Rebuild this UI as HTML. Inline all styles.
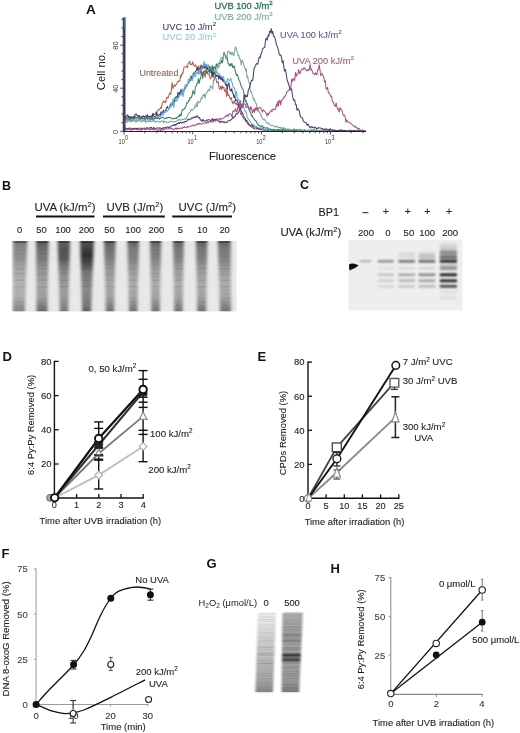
<!DOCTYPE html>
<html><head><meta charset="utf-8"><style>
html,body{margin:0;padding:0;background:#fff;}
svg{display:block;font-family:"Liberation Sans", sans-serif;will-change:transform;}
</style></head><body>
<svg width="520" height="733" viewBox="0 0 520 733">
<defs><linearGradient id="gB0" x1="0" y1="0" x2="0" y2="1"><stop offset="0" stop-color="#000" stop-opacity="0.57"/><stop offset="0.03" stop-color="#000" stop-opacity="0.47"/><stop offset="0.1" stop-color="#000" stop-opacity="0.42"/><stop offset="0.25" stop-color="#000" stop-opacity="0.38"/><stop offset="0.4" stop-color="#000" stop-opacity="0.28"/><stop offset="0.6" stop-color="#000" stop-opacity="0.23"/><stop offset="0.78" stop-color="#000" stop-opacity="0.25"/><stop offset="0.9" stop-color="#000" stop-opacity="0.34"/><stop offset="1.0" stop-color="#000" stop-opacity="0.44"/></linearGradient><linearGradient id="gB1" x1="0" y1="0" x2="0" y2="1"><stop offset="0" stop-color="#000" stop-opacity="0.72"/><stop offset="0.03" stop-color="#000" stop-opacity="0.60"/><stop offset="0.1" stop-color="#000" stop-opacity="0.53"/><stop offset="0.25" stop-color="#000" stop-opacity="0.48"/><stop offset="0.4" stop-color="#000" stop-opacity="0.36"/><stop offset="0.6" stop-color="#000" stop-opacity="0.29"/><stop offset="0.78" stop-color="#000" stop-opacity="0.31"/><stop offset="0.9" stop-color="#000" stop-opacity="0.43"/><stop offset="1.0" stop-color="#000" stop-opacity="0.55"/></linearGradient><linearGradient id="gB2" x1="0" y1="0" x2="0" y2="1"><stop offset="0" stop-color="#000" stop-opacity="0.72"/><stop offset="0.03" stop-color="#000" stop-opacity="0.60"/><stop offset="0.1" stop-color="#000" stop-opacity="0.64"/><stop offset="0.25" stop-color="#000" stop-opacity="0.62"/><stop offset="0.35" stop-color="#000" stop-opacity="0.48"/><stop offset="0.5" stop-color="#000" stop-opacity="0.37"/><stop offset="0.75" stop-color="#000" stop-opacity="0.32"/><stop offset="0.9" stop-color="#000" stop-opacity="0.40"/><stop offset="1.0" stop-color="#000" stop-opacity="0.50"/></linearGradient><linearGradient id="gB3" x1="0" y1="0" x2="0" y2="1"><stop offset="0" stop-color="#000" stop-opacity="0.80"/><stop offset="0.03" stop-color="#000" stop-opacity="0.66"/><stop offset="0.1" stop-color="#000" stop-opacity="0.72"/><stop offset="0.2" stop-color="#000" stop-opacity="0.80"/><stop offset="0.33" stop-color="#000" stop-opacity="0.66"/><stop offset="0.45" stop-color="#000" stop-opacity="0.48"/><stop offset="0.7" stop-color="#000" stop-opacity="0.40"/><stop offset="0.9" stop-color="#000" stop-opacity="0.48"/><stop offset="1.0" stop-color="#000" stop-opacity="0.60"/></linearGradient><linearGradient id="gB4" x1="0" y1="0" x2="0" y2="1"><stop offset="0" stop-color="#000" stop-opacity="0.69"/><stop offset="0.03" stop-color="#000" stop-opacity="0.57"/><stop offset="0.1" stop-color="#000" stop-opacity="0.51"/><stop offset="0.25" stop-color="#000" stop-opacity="0.46"/><stop offset="0.4" stop-color="#000" stop-opacity="0.34"/><stop offset="0.6" stop-color="#000" stop-opacity="0.28"/><stop offset="0.78" stop-color="#000" stop-opacity="0.30"/><stop offset="0.9" stop-color="#000" stop-opacity="0.41"/><stop offset="1.0" stop-color="#000" stop-opacity="0.53"/></linearGradient><linearGradient id="gB5" x1="0" y1="0" x2="0" y2="1"><stop offset="0" stop-color="#000" stop-opacity="0.66"/><stop offset="0.03" stop-color="#000" stop-opacity="0.55"/><stop offset="0.1" stop-color="#000" stop-opacity="0.48"/><stop offset="0.25" stop-color="#000" stop-opacity="0.44"/><stop offset="0.4" stop-color="#000" stop-opacity="0.33"/><stop offset="0.6" stop-color="#000" stop-opacity="0.26"/><stop offset="0.78" stop-color="#000" stop-opacity="0.29"/><stop offset="0.9" stop-color="#000" stop-opacity="0.40"/><stop offset="1.0" stop-color="#000" stop-opacity="0.51"/></linearGradient><linearGradient id="gB6" x1="0" y1="0" x2="0" y2="1"><stop offset="0" stop-color="#000" stop-opacity="0.66"/><stop offset="0.03" stop-color="#000" stop-opacity="0.55"/><stop offset="0.1" stop-color="#000" stop-opacity="0.48"/><stop offset="0.25" stop-color="#000" stop-opacity="0.44"/><stop offset="0.4" stop-color="#000" stop-opacity="0.33"/><stop offset="0.6" stop-color="#000" stop-opacity="0.26"/><stop offset="0.78" stop-color="#000" stop-opacity="0.29"/><stop offset="0.9" stop-color="#000" stop-opacity="0.40"/><stop offset="1.0" stop-color="#000" stop-opacity="0.51"/></linearGradient><linearGradient id="gB7" x1="0" y1="0" x2="0" y2="1"><stop offset="0" stop-color="#000" stop-opacity="0.66"/><stop offset="0.03" stop-color="#000" stop-opacity="0.55"/><stop offset="0.1" stop-color="#000" stop-opacity="0.48"/><stop offset="0.25" stop-color="#000" stop-opacity="0.44"/><stop offset="0.4" stop-color="#000" stop-opacity="0.33"/><stop offset="0.6" stop-color="#000" stop-opacity="0.26"/><stop offset="0.78" stop-color="#000" stop-opacity="0.29"/><stop offset="0.9" stop-color="#000" stop-opacity="0.40"/><stop offset="1.0" stop-color="#000" stop-opacity="0.51"/></linearGradient><linearGradient id="gB8" x1="0" y1="0" x2="0" y2="1"><stop offset="0" stop-color="#000" stop-opacity="0.67"/><stop offset="0.03" stop-color="#000" stop-opacity="0.56"/><stop offset="0.1" stop-color="#000" stop-opacity="0.49"/><stop offset="0.25" stop-color="#000" stop-opacity="0.45"/><stop offset="0.4" stop-color="#000" stop-opacity="0.34"/><stop offset="0.6" stop-color="#000" stop-opacity="0.27"/><stop offset="0.78" stop-color="#000" stop-opacity="0.29"/><stop offset="0.9" stop-color="#000" stop-opacity="0.40"/><stop offset="1.0" stop-color="#000" stop-opacity="0.52"/></linearGradient><linearGradient id="gB9" x1="0" y1="0" x2="0" y2="1"><stop offset="0" stop-color="#000" stop-opacity="0.66"/><stop offset="0.03" stop-color="#000" stop-opacity="0.55"/><stop offset="0.1" stop-color="#000" stop-opacity="0.48"/><stop offset="0.25" stop-color="#000" stop-opacity="0.44"/><stop offset="0.4" stop-color="#000" stop-opacity="0.33"/><stop offset="0.6" stop-color="#000" stop-opacity="0.26"/><stop offset="0.78" stop-color="#000" stop-opacity="0.29"/><stop offset="0.9" stop-color="#000" stop-opacity="0.40"/><stop offset="1.0" stop-color="#000" stop-opacity="0.51"/></linearGradient><filter id="blurB" x="-40%" y="-5%" width="180%" height="110%"><feGaussianBlur stdDeviation="1.8 0.5"/></filter><filter id="blurCC" x="-20%" y="-150%" width="140%" height="400%"><feGaussianBlur stdDeviation="1.3 0.8"/></filter><filter id="blurS" x="-20%" y="-50%" width="140%" height="200%"><feGaussianBlur stdDeviation="0.4"/></filter><linearGradient id="gC5" x1="0" y1="0" x2="0" y2="1"><stop offset="0" stop-color="#000" stop-opacity="0.03"/><stop offset="0.5" stop-color="#000" stop-opacity="0.2"/><stop offset="1" stop-color="#000" stop-opacity="0.38"/></linearGradient><linearGradient id="gC4" x1="0" y1="0" x2="0" y2="1"><stop offset="0" stop-color="#000" stop-opacity="0.0"/><stop offset="1" stop-color="#000" stop-opacity="0.1"/></linearGradient><filter id="blurE" x="-5%" y="-5%" width="110%" height="110%"><feGaussianBlur stdDeviation="0.6"/></filter><filter id="blurC" x="-20%" y="-100%" width="140%" height="300%"><feGaussianBlur stdDeviation="0.9 0.6"/></filter><filter id="blurG" x="-20%" y="-5%" width="140%" height="110%"><feGaussianBlur stdDeviation="1.2 0.5"/></filter><linearGradient id="gG1" x1="0" y1="0" x2="0" y2="1"><stop offset="0" stop-color="#efefef"/><stop offset="0.25" stop-color="#d8d8d8"/><stop offset="0.6" stop-color="#bcbcbc"/><stop offset="0.88" stop-color="#a0a0a0"/><stop offset="1" stop-color="#848484"/></linearGradient><linearGradient id="gG2" x1="0" y1="0" x2="0" y2="1"><stop offset="0" stop-color="#c8c8c8"/><stop offset="0.3" stop-color="#acacac"/><stop offset="0.6" stop-color="#a8a8a8"/><stop offset="0.88" stop-color="#989898"/><stop offset="1" stop-color="#7a7a7a"/></linearGradient></defs>
<rect width="520" height="733" fill="#fff"/>
<text x="86" y="13.7" font-size="13.5" fill="#111" text-anchor="start" font-weight="bold" >A</text>
<polyline points="124.0,117.0 124.7,118.3 125.5,116.9 126.2,117.8 126.9,117.7 127.7,116.8 128.4,118.7 129.1,117.0 129.9,116.5 130.6,118.1 131.3,116.6 132.1,117.4 132.8,117.1 133.5,118.5 134.3,118.6 135.0,117.6 135.8,117.9 136.5,117.4 137.3,117.4 138.1,117.6 138.8,116.7 139.6,116.6 140.4,118.5 141.2,118.1 141.9,117.4 142.7,117.7 143.5,117.9 144.2,118.1 145.0,120.2 145.8,118.7 146.6,116.7 147.3,117.0 148.1,117.9 148.9,117.8 149.7,116.8 150.4,117.1 151.2,115.6 152.0,117.8 152.8,116.2 153.6,113.7 154.4,114.4 155.2,114.4 156.0,112.0 156.8,112.4 157.6,110.5 158.4,109.5 159.2,109.9 160.0,109.0 160.7,107.3 161.4,108.1 162.1,103.6 162.9,102.5 163.6,100.9 164.3,102.1 165.0,101.2 165.7,102.8 166.4,97.8 167.1,97.1 167.9,98.2 168.6,96.5 169.3,93.9 170.0,93.0 170.7,94.3 171.4,89.8 172.1,82.5 172.9,88.5 173.6,86.8 174.3,84.8 175.0,86.3 175.8,84.9 176.6,84.0 177.4,82.3 178.2,81.0 179.0,81.5 179.8,80.9 180.5,75.3 181.2,76.9 182.0,73.1 182.8,73.8 183.5,69.6 184.2,67.2 185.0,66.9 185.8,66.7 186.6,66.1 187.4,68.0 188.2,63.2 189.0,62.8 189.8,61.3 190.5,64.6 191.2,64.3 192.0,64.5 192.8,61.9 193.5,64.3 194.2,66.2 195.0,66.0 195.8,64.9 196.5,67.1 197.2,69.3 198.0,69.0 198.7,65.8 199.5,70.0 200.2,73.9 200.9,64.8 201.6,74.3 202.4,72.8 203.1,74.2 203.8,70.9 204.5,75.0 205.3,77.1 206.0,68.6 206.7,73.0 207.5,73.6 208.2,74.1 209.0,73.7 209.7,76.9 210.5,78.7 211.2,77.5 212.0,71.2 212.7,73.8 213.5,74.7 214.3,79.4 215.1,76.9 215.9,78.0 216.7,82.7 217.5,82.1 218.3,81.8 219.2,88.8 220.0,89.1 220.8,86.1 221.5,89.6 222.3,85.9 223.0,88.0 223.8,87.4 224.5,90.9 225.3,91.7 226.0,88.7 226.7,96.5 227.4,90.8 228.1,95.5 228.8,95.0 229.6,97.2 230.4,99.3 231.3,97.7 232.1,101.8 232.9,103.7 233.7,101.8 234.4,101.0 235.2,104.0 236.0,102.9 236.8,104.7 237.5,103.9 238.3,106.3 239.1,106.0 239.9,110.3 240.7,114.4 241.5,113.2 242.3,116.2 243.0,117.6 243.8,118.4 244.5,119.5 245.3,120.0 246.0,121.9 246.8,122.7 247.6,123.6 248.4,124.7 249.2,125.0 250.0,125.2 250.7,126.7 251.4,126.6 252.1,127.3 252.9,127.5 253.6,128.9 254.3,127.8 255.0,129.0 255.8,129.1 256.6,129.2 257.3,128.5 258.1,129.1 258.9,129.1 259.7,129.5 260.4,129.3 261.2,129.4 262.0,130.2 262.8,129.8 263.5,130.4 264.3,129.9 265.1,130.5 265.8,131.3 266.6,130.3 267.4,131.3 268.1,130.3 268.9,130.1 269.6,131.0 270.4,130.8 271.2,130.1 271.9,131.1 272.7,131.3 273.5,130.7 274.2,131.3 275.0,130.9 275.8,130.5 276.5,130.8 277.3,131.0 278.0,131.1 278.8,130.7 279.5,131.3 280.3,130.4 281.0,130.0 281.8,131.1 282.5,131.3 283.3,131.0 284.0,130.3 284.8,130.6 285.5,130.0 286.3,130.5 287.0,130.6 287.8,130.8 288.5,131.3 289.3,131.1 290.0,130.5 290.8,130.7 291.5,130.2 292.3,130.9 293.0,130.8 293.8,131.3 294.6,131.0 295.3,131.1 296.1,131.3 296.8,130.7 297.6,130.5 298.3,131.3 299.1,131.0 299.8,131.1 300.6,131.0 301.3,130.3 302.1,131.3 302.8,131.3 303.6,130.7 304.3,129.7 305.1,130.4 305.8,131.3 306.6,130.8 307.3,131.3 308.1,130.9 308.8,130.6 309.6,131.3 310.3,130.9 311.1,131.3 311.9,131.3 312.6,130.1 313.4,130.8 314.1,131.3 314.9,131.3 315.6,130.9 316.4,129.9 317.1,131.3 317.9,131.3 318.6,130.9 319.4,131.3 320.1,130.6 320.9,130.4 321.6,131.2 322.4,130.9 323.1,130.7 323.9,130.5 324.6,131.3 325.4,131.3 326.1,131.0 326.9,131.3 327.6,130.7 328.4,131.1 329.1,131.3 329.9,130.7 330.7,130.7 331.4,131.3 332.2,130.7 332.9,130.6 333.7,130.5 334.4,131.3 335.2,131.3 335.9,131.0 336.7,131.3 337.4,131.3 338.2,130.7 338.9,131.3 339.7,130.6 340.4,131.1 341.2,131.3 341.9,131.0 342.7,131.1 343.4,131.3 344.2,131.3 344.9,131.1 345.7,131.3 346.4,131.3 347.2,131.3 348.0,131.3 348.7,131.2 349.5,131.2 350.2,131.0 351.0,131.3 351.7,131.0 352.5,130.5 353.2,131.0 354.0,130.7 354.7,131.3 355.5,130.6 356.2,131.3 357.0,131.2 357.7,131.3 358.5,131.2 359.2,131.3 360.0,130.6 360.7,131.2 361.5,131.3 362.2,129.9 363.0,130.4 363.7,131.0 364.5,131.3 365.2,131.2 366.0,131.3" fill="none" stroke="#b85a4e" stroke-width="1.05" stroke-linejoin="round" opacity="1.0"/>
<polyline points="124.0,114.7 124.8,116.2 125.5,116.9 126.3,116.1 127.0,115.6 127.8,115.0 128.6,116.7 129.3,116.9 130.1,119.2 130.9,116.8 131.6,118.0 132.4,117.3 133.1,116.7 133.9,119.0 134.7,115.1 135.4,114.3 136.2,114.1 137.0,115.5 137.7,116.1 138.5,116.4 139.2,115.3 140.0,116.7 140.8,117.0 141.5,116.7 142.2,118.1 143.0,115.7 143.8,116.3 144.5,117.1 145.2,116.3 146.0,115.7 146.8,116.4 147.5,114.7 148.2,117.1 149.0,116.8 149.8,116.8 150.5,116.2 151.2,117.0 152.0,116.3 152.8,113.5 153.6,115.9 154.3,116.4 155.1,117.0 155.9,116.7 156.7,112.5 157.4,115.2 158.2,115.9 159.0,114.7 159.7,114.2 160.4,115.2 161.1,111.7 161.9,113.8 162.6,113.2 163.3,110.3 164.0,112.5 164.8,111.2 165.6,110.4 166.4,108.5 167.2,106.6 168.0,107.9 168.8,109.2 169.6,107.2 170.4,103.9 171.2,106.1 172.0,102.7 172.8,105.1 173.5,100.8 174.2,103.3 175.0,98.1 175.8,97.0 176.5,96.8 177.2,98.1 178.0,92.3 178.8,97.3 179.5,92.3 180.2,93.7 181.0,89.4 181.7,91.6 182.4,92.4 183.1,92.3 183.9,90.8 184.6,88.2 185.3,88.5 186.0,85.6 186.7,85.1 187.4,85.3 188.1,82.8 188.9,82.1 189.6,80.7 190.3,80.6 191.0,75.8 191.8,79.2 192.6,78.8 193.4,73.0 194.2,74.8 195.0,72.4 195.8,71.1 196.6,70.0 197.3,67.3 198.1,70.5 198.9,69.4 199.7,68.5 200.4,67.5 201.2,66.4 202.0,65.7 202.7,68.0 203.4,68.2 204.1,64.6 204.9,68.2 205.6,67.5 206.3,64.5 207.0,69.6 207.7,68.4 208.4,66.4 209.1,70.8 209.8,66.2 210.6,71.6 211.3,73.1 212.0,69.8 212.7,76.8 213.5,72.1 214.2,73.8 215.0,70.4 215.7,76.7 216.5,74.9 217.2,76.2 218.0,75.2 218.8,79.2 219.6,74.6 220.4,78.8 221.1,79.7 221.9,76.5 222.7,81.3 223.5,79.4 224.3,82.6 225.0,82.0 225.8,85.3 226.5,84.1 227.3,89.6 228.0,84.6 228.8,82.8 229.5,86.1 230.3,90.7 231.0,90.9 231.8,88.8 232.5,93.1 233.3,93.7 234.0,97.6 234.8,95.5 235.6,101.0 236.4,100.1 237.2,100.9 238.0,102.7 238.8,106.9 239.6,104.9 240.4,108.6 241.2,110.8 242.0,112.6 242.8,113.6 243.5,115.9 244.3,117.6 245.0,118.1 245.8,120.6 246.5,120.3 247.2,121.4 247.9,122.1 248.6,124.3 249.3,124.6 250.0,125.2 250.8,125.6 251.5,124.8 252.3,124.8 253.0,126.9 253.8,125.6 254.5,126.3 255.2,126.6 256.0,127.3 256.7,128.2 257.4,127.9 258.2,128.5 258.9,128.0 259.6,128.8 260.3,128.9 261.1,129.1 261.8,129.0 262.6,128.1 263.3,129.0 264.1,129.6 264.8,129.6 265.5,130.2 266.3,129.9 267.0,130.0 267.8,130.1 268.5,130.0 269.3,130.4 270.0,130.0 270.8,130.5 271.5,129.7 272.2,129.9 273.0,130.2 273.8,129.5 274.5,130.5 275.2,130.5 276.0,130.2 276.8,130.1 277.5,129.8 278.2,130.3 279.0,130.5 279.8,130.2 280.5,130.4 281.2,130.8 282.0,129.6 282.8,130.4 283.5,131.1 284.2,129.7 285.0,130.3 285.8,130.7 286.5,129.8 287.2,130.3 288.0,130.7 288.8,130.4 289.5,131.0 290.2,129.8 291.0,131.1 291.8,130.6 292.5,131.3 293.2,131.1 294.0,131.1 294.8,129.8 295.5,130.9 296.2,129.6 297.0,129.7 297.8,129.7 298.5,130.9 299.2,130.0 300.0,130.3 300.8,129.9 301.5,130.7 302.2,130.5 303.0,131.2 303.8,131.3 304.5,129.8 305.2,130.5 306.0,130.8 306.8,130.7 307.5,130.4 308.2,130.9 309.0,131.3 309.8,130.8 310.5,131.3 311.2,130.5 312.0,130.5 312.8,131.2 313.5,129.5 314.2,130.6 315.0,131.1 315.8,131.1 316.5,130.1 317.2,130.7 318.0,131.3 318.8,131.3 319.5,131.3 320.2,130.9 321.0,131.2 321.8,131.0 322.5,130.1 323.2,130.0 324.0,131.3 324.8,130.5 325.5,130.7 326.2,130.5 327.0,131.3 327.8,131.3 328.5,130.9 329.2,131.3 330.0,130.8 330.8,130.6 331.5,131.3 332.2,131.3 333.0,131.3 333.8,131.3 334.5,131.3 335.2,131.3 336.0,131.3 336.8,130.7 337.5,131.3 338.2,131.3 339.0,131.1 339.8,131.1 340.5,131.2 341.2,130.9 342.0,129.8 342.8,131.3 343.5,131.3 344.2,130.7 345.0,131.3 345.8,130.9 346.5,131.0 347.2,131.0 348.0,131.3 348.8,130.4 349.5,130.1 350.2,131.2 351.0,130.7 351.8,130.3 352.5,131.3 353.2,131.3 354.0,131.3 354.8,130.2 355.5,131.3 356.2,131.3 357.0,131.3 357.8,131.3 358.5,131.3 359.2,131.2 360.0,130.8 360.8,131.0 361.5,131.3 362.2,131.3 363.0,131.3 363.8,131.3 364.5,131.3 365.2,131.3 366.0,131.1" fill="none" stroke="#34387a" stroke-width="1.05" stroke-linejoin="round" opacity="1.0"/>
<polyline points="124.0,120.9 124.8,121.9 125.5,121.1 126.3,121.3 127.0,120.8 127.8,120.4 128.6,120.5 129.3,121.3 130.1,121.1 130.9,120.6 131.6,121.0 132.4,119.4 133.1,121.5 133.9,120.0 134.7,119.2 135.4,120.4 136.2,119.8 137.0,120.7 137.7,120.7 138.5,119.0 139.2,119.0 140.0,119.6 140.8,119.6 141.5,120.1 142.2,119.9 143.0,120.6 143.8,120.4 144.5,120.4 145.2,120.9 146.0,120.4 146.8,119.9 147.5,119.6 148.2,120.2 149.0,118.8 149.8,120.6 150.5,118.5 151.2,119.9 152.0,119.0 152.7,120.2 153.5,118.9 154.2,118.1 154.9,117.9 155.6,118.3 156.4,117.4 157.1,117.8 157.8,115.7 158.5,118.0 159.3,116.1 160.0,116.7 160.8,117.2 161.5,115.1 162.2,113.0 163.0,115.4 163.8,114.1 164.5,111.3 165.2,112.2 166.0,112.3 166.7,110.0 167.4,111.1 168.1,110.5 168.9,107.7 169.6,108.2 170.3,105.0 171.0,107.0 171.7,102.1 172.4,104.4 173.1,98.5 173.9,107.6 174.6,102.1 175.3,101.3 176.0,99.1 176.7,101.3 177.4,99.7 178.1,98.2 178.9,94.5 179.6,95.7 180.3,95.0 181.0,93.3 181.7,95.1 182.4,88.8 183.1,96.7 183.9,91.2 184.6,87.5 185.3,84.4 186.0,87.7 186.7,84.1 187.4,86.1 188.1,79.8 188.9,78.8 189.6,80.3 190.3,78.0 191.0,78.6 191.7,80.3 192.4,80.7 193.1,74.2 193.9,76.7 194.6,73.9 195.3,76.8 196.0,75.0 196.7,72.2 197.4,73.5 198.1,70.9 198.9,74.6 199.6,69.2 200.3,70.6 201.0,70.8 201.7,69.0 202.4,69.4 203.1,67.4 203.9,61.5 204.6,63.5 205.3,66.3 206.0,63.8 206.7,66.3 207.4,66.5 208.1,64.3 208.9,70.7 209.6,67.9 210.3,68.1 211.0,68.5 211.7,68.3 212.4,70.9 213.1,69.0 213.9,69.7 214.6,71.4 215.3,71.6 216.0,72.7 216.7,71.9 217.4,71.9 218.1,73.9 218.9,73.7 219.6,75.3 220.3,75.7 221.0,76.8 221.7,76.8 222.4,77.3 223.1,76.5 223.9,78.3 224.6,83.5 225.3,82.6 226.0,81.3 226.8,82.3 227.6,78.6 228.4,79.5 229.2,81.0 230.0,80.2 230.8,78.1 231.5,82.1 232.2,82.6 232.9,86.4 233.6,88.0 234.3,87.7 235.0,90.7 235.8,95.1 236.6,91.4 237.4,100.5 238.2,99.0 239.0,99.7 239.8,104.1 240.7,100.4 241.5,106.0 242.3,106.1 243.0,107.2 243.7,107.7 244.4,109.3 245.2,112.1 245.9,111.1 246.6,114.1 247.3,117.5 248.0,118.7 248.8,119.7 249.6,120.3 250.4,121.5 251.2,123.0 252.0,123.8 252.8,123.9 253.5,125.0 254.3,126.2 255.0,126.5 255.8,126.8 256.5,126.1 257.3,127.4 258.0,127.6 258.8,127.7 259.5,128.0 260.2,128.0 260.9,127.7 261.6,127.9 262.4,128.9 263.1,128.6 263.8,129.5 264.6,129.3 265.3,129.6 266.0,130.6 266.8,129.5 267.5,129.7 268.2,129.3 269.0,129.9 269.8,130.6 270.5,129.8 271.2,130.2 272.0,130.7 272.8,130.6 273.5,130.4 274.2,130.4 275.0,130.1 275.8,130.2 276.5,130.3 277.2,130.3 278.0,129.2 278.8,130.3 279.5,129.8 280.2,131.3 281.0,131.3 281.8,131.0 282.5,131.0 283.2,130.6 284.0,130.8 284.8,130.5 285.5,130.3 286.2,129.5 287.0,130.7 287.8,130.7 288.5,130.7 289.2,130.4 290.0,129.7 290.8,130.5 291.5,130.6 292.3,130.8 293.0,130.7 293.8,129.9 294.5,130.8 295.3,130.2 296.0,129.5 296.8,130.7 297.5,130.7 298.3,130.1 299.0,130.8 299.8,131.3 300.5,131.2 301.3,130.7 302.0,130.7 302.8,130.9 303.5,130.7 304.3,130.5 305.0,130.2 305.8,130.6 306.6,131.0 307.3,130.6 308.1,130.4 308.8,130.3 309.6,131.2 310.3,130.9 311.1,130.7 311.8,130.5 312.6,130.6 313.3,130.2 314.1,130.6 314.8,130.3 315.6,131.2 316.3,131.0 317.1,130.6 317.8,131.3 318.6,130.3 319.3,131.3 320.1,131.3 320.9,131.3 321.6,130.7 322.4,131.3 323.1,130.9 323.9,131.3 324.6,131.1 325.4,130.9 326.1,131.3 326.9,131.0 327.6,131.3 328.4,131.0 329.1,131.1 329.9,131.2 330.6,131.2 331.4,130.8 332.1,131.3 332.9,131.3 333.6,130.9 334.4,131.1 335.1,131.2 335.9,131.2 336.7,131.3 337.4,130.8 338.2,130.8 338.9,131.2 339.7,131.3 340.4,131.3 341.2,131.3 341.9,131.1 342.7,131.3 343.4,131.3 344.2,131.3 344.9,131.3 345.7,131.3 346.4,131.3 347.2,131.2 347.9,131.3 348.7,131.3 349.4,131.3 350.2,130.9 351.0,131.3 351.7,130.9 352.5,131.3 353.2,131.3 354.0,131.3 354.7,131.3 355.5,131.3 356.2,131.0 357.0,131.3 357.7,131.2 358.5,130.8 359.2,131.3 360.0,131.1 360.7,131.1 361.5,131.3 362.2,131.3 363.0,131.3 363.7,131.3 364.5,131.3 365.2,131.3 366.0,131.3" fill="none" stroke="#62b0d2" stroke-width="1.05" stroke-linejoin="round" opacity="1.0"/>
<polyline points="124.0,119.9 124.8,119.7 125.5,118.9 126.3,119.5 127.0,118.5 127.8,120.0 128.6,119.2 129.3,119.2 130.1,118.7 130.9,120.1 131.6,117.7 132.4,118.4 133.1,117.8 133.9,119.2 134.7,117.1 135.4,116.6 136.2,118.1 137.0,118.0 137.7,117.4 138.5,118.6 139.2,117.9 140.0,118.6 140.7,119.1 141.5,118.5 142.2,117.4 143.0,119.0 143.7,118.9 144.4,118.3 145.2,117.6 145.9,118.6 146.7,117.7 147.4,118.8 148.1,117.5 148.9,117.9 149.6,118.6 150.4,119.0 151.1,118.2 151.9,118.9 152.6,117.6 153.3,118.9 154.1,119.1 154.8,118.1 155.6,118.5 156.3,118.1 157.0,118.7 157.8,118.1 158.5,118.4 159.3,119.2 160.0,118.2 160.8,117.9 161.5,118.1 162.2,117.5 163.0,117.4 163.8,118.0 164.5,118.8 165.2,118.6 166.0,117.7 166.8,118.5 167.5,117.8 168.2,117.6 169.0,117.2 169.8,117.8 170.5,117.4 171.2,118.6 172.0,118.8 172.8,118.9 173.5,118.0 174.2,118.8 175.0,118.6 175.8,118.0 176.5,118.7 177.2,116.9 178.0,116.9 178.7,115.7 179.4,116.6 180.1,114.1 180.9,115.9 181.6,112.7 182.3,109.9 183.0,109.4 183.8,109.8 184.6,108.0 185.4,108.1 186.1,105.3 186.9,102.6 187.7,103.1 188.5,100.6 189.3,100.7 190.0,97.4 190.8,97.7 191.5,97.7 192.3,94.2 193.0,90.6 193.8,92.7 194.6,94.3 195.3,87.3 196.1,86.2 196.9,83.7 197.7,83.7 198.4,78.6 199.2,83.2 199.9,80.0 200.6,77.8 201.3,75.2 202.0,71.8 202.7,78.4 203.5,73.0 204.2,72.4 204.9,70.6 205.6,71.7 206.4,71.7 207.1,73.5 207.8,71.1 208.5,70.1 209.3,72.6 210.0,67.7 210.8,72.3 211.5,69.0 212.3,65.4 213.1,71.5 213.9,66.5 214.6,67.7 215.4,69.3 216.2,63.8 216.9,66.3 217.7,64.2 218.5,63.6 219.3,62.9 220.0,63.9 220.8,63.2 221.6,60.3 222.4,62.8 223.2,57.7 224.0,52.3 224.8,54.1 225.6,57.0 226.4,59.1 227.2,57.0 228.0,63.4 228.8,63.7 229.6,66.0 230.3,63.8 231.1,65.6 231.9,63.4 232.7,67.7 233.4,67.2 234.2,65.7 235.0,70.0 235.8,73.6 236.7,75.4 237.5,74.5 238.3,78.0 239.1,80.2 239.9,81.5 240.7,85.0 241.5,86.5 242.3,88.6 243.1,89.5 243.8,92.4 244.6,98.1 245.3,101.7 246.0,100.0 246.6,104.5 247.3,103.6 248.0,106.0 248.7,108.9 249.4,110.2 250.1,111.8 250.8,113.1 251.5,116.2 252.2,115.6 252.9,117.5 253.7,118.7 254.4,119.4 255.1,120.7 255.9,120.7 256.6,122.7 257.3,123.1 258.0,124.4 258.7,125.4 259.4,125.4 260.1,125.5 260.9,126.5 261.6,126.2 262.3,125.6 263.0,127.0 263.8,127.6 264.5,127.6 265.2,128.2 266.0,128.2 266.8,127.6 267.5,127.8 268.2,128.9 269.0,129.1 269.8,128.9 270.5,128.9 271.2,130.0 272.0,129.5 272.8,129.4 273.5,130.2 274.3,129.8 275.0,130.2 275.8,130.5 276.5,130.5 277.3,129.8 278.1,129.4 278.8,130.8 279.6,129.7 280.3,130.2 281.1,130.2 281.8,130.5 282.6,130.3 283.4,129.6 284.1,130.1 284.9,130.3 285.6,130.4 286.4,129.9 287.1,130.6 287.9,128.7 288.6,130.5 289.4,129.8 290.2,130.0 290.9,131.0 291.7,130.6 292.4,130.4 293.2,130.3 293.9,131.1 294.7,130.4 295.5,130.6 296.2,130.4 297.0,130.8 297.7,131.3 298.5,131.1 299.2,131.3 300.0,131.3 300.8,130.3 301.5,131.2 302.2,130.8 303.0,130.4 303.8,130.8 304.5,130.9 305.2,130.6 306.0,130.8 306.8,130.3 307.5,131.3 308.2,131.3 309.0,131.0 309.8,131.1 310.5,131.3 311.2,131.1 312.0,130.7 312.8,131.0 313.5,131.3 314.2,130.7 315.0,131.3 315.8,131.3 316.5,131.0 317.2,131.2 318.0,131.0 318.8,130.6 319.5,130.8 320.2,130.9 321.0,130.9 321.8,131.3 322.5,131.0 323.2,131.3 324.0,131.3 324.8,129.7 325.5,131.1 326.2,130.5 327.0,131.3 327.8,130.7 328.5,131.3 329.2,131.3 330.0,131.2 330.8,131.3 331.5,131.3 332.2,130.8 333.0,131.2 333.8,130.3 334.5,131.0 335.2,131.3 336.0,131.1 336.8,131.3 337.5,131.3 338.2,130.7 339.0,130.8 339.8,131.1 340.5,131.3 341.2,131.0 342.0,131.3 342.8,131.3 343.5,131.3 344.2,130.9 345.0,131.3 345.8,131.2 346.5,131.3 347.2,131.3 348.0,131.3 348.8,131.3 349.5,131.3 350.2,131.3 351.0,131.0 351.8,131.3 352.5,131.3 353.2,131.3 354.0,131.3 354.8,130.7 355.5,131.3 356.2,130.9 357.0,131.3 357.8,131.3 358.5,130.9 359.2,130.7 360.0,130.8 360.8,131.3 361.5,131.2 362.2,131.3 363.0,131.3 363.8,131.3 364.5,131.3 365.2,131.3 366.0,131.3" fill="none" stroke="#3b7d5e" stroke-width="1.05" stroke-linejoin="round" opacity="1.0"/>
<polyline points="124.0,121.1 124.7,121.0 125.5,121.1 126.2,121.0 127.0,122.6 127.7,119.0 128.5,120.9 129.2,120.5 129.9,121.8 130.7,120.0 131.4,121.7 132.2,120.7 132.9,120.8 133.7,121.1 134.4,119.7 135.1,120.4 135.9,122.3 136.6,119.5 137.4,121.3 138.1,121.0 138.9,120.6 139.6,120.1 140.3,121.2 141.1,121.8 141.8,121.5 142.6,120.8 143.3,121.0 144.1,120.8 144.8,120.4 145.5,122.2 146.3,122.2 147.0,121.6 147.8,121.5 148.5,121.5 149.3,121.9 150.0,119.4 150.8,121.4 151.5,121.7 152.3,121.3 153.0,121.2 153.8,120.1 154.5,121.4 155.3,122.2 156.1,121.5 156.8,121.1 157.6,121.4 158.3,121.7 159.1,121.6 159.8,122.3 160.6,121.5 161.4,121.1 162.1,121.4 162.9,120.9 163.6,122.7 164.4,121.2 165.2,122.3 165.9,122.0 166.7,121.8 167.4,122.5 168.2,122.4 168.9,122.8 169.7,121.6 170.5,121.3 171.2,121.4 172.0,121.7 172.7,121.8 173.5,121.6 174.2,122.0 175.0,121.6 175.8,121.4 176.5,120.9 177.3,120.5 178.1,119.8 178.9,119.9 179.6,119.4 180.4,120.2 181.2,120.3 181.9,119.5 182.7,119.5 183.5,119.6 184.3,118.6 185.0,118.6 185.8,119.5 186.6,117.6 187.3,116.3 188.1,114.0 188.9,112.9 189.7,112.9 190.4,111.1 191.2,109.3 192.0,110.5 192.7,110.3 193.5,108.7 194.2,108.6 195.0,105.9 195.7,107.1 196.5,102.9 197.3,106.6 198.1,100.9 198.9,102.3 199.6,102.7 200.4,101.7 201.2,97.5 202.0,98.6 202.8,95.4 203.5,95.8 204.3,93.7 205.0,98.2 205.8,95.4 206.5,92.7 207.3,92.0 208.1,90.2 208.8,89.7 209.6,90.9 210.4,85.7 211.2,87.0 211.9,86.6 212.7,89.3 213.4,79.9 214.1,81.1 214.7,77.1 215.4,70.6 216.3,72.9 217.1,68.1 218.0,65.4 218.8,67.8 219.6,63.0 220.4,59.0 221.2,57.9 222.0,57.2 222.8,60.5 223.6,56.0 224.5,54.2 225.3,55.5 226.1,55.7 226.9,58.9 227.6,51.6 228.4,51.2 229.2,51.5 230.0,54.0 230.7,52.4 231.5,54.5 232.3,52.2 233.1,55.0 233.8,55.6 234.6,51.4 235.4,46.7 236.2,48.0 236.9,50.9 237.6,52.8 238.2,55.6 238.9,55.3 239.6,59.1 240.4,59.4 241.2,65.1 242.0,60.0 242.8,61.5 243.6,64.0 244.3,66.8 245.0,67.8 245.6,70.9 246.3,68.9 247.0,77.5 247.7,76.3 248.4,81.1 249.0,82.1 249.7,84.8 250.4,91.8 251.2,91.6 251.9,93.9 252.7,95.6 253.5,99.9 254.2,98.8 255.0,101.2 255.7,103.2 256.4,103.7 257.2,108.9 257.9,111.4 258.6,109.7 259.4,112.3 260.1,112.6 260.8,114.8 261.5,116.5 262.2,117.6 262.9,119.3 263.6,119.8 264.4,119.0 265.1,120.4 265.8,121.2 266.5,122.7 267.3,122.7 268.1,123.7 268.8,123.2 269.6,124.6 270.4,125.0 271.2,125.4 271.9,125.5 272.7,125.8 273.5,125.7 274.3,126.4 275.0,126.6 275.8,127.2 276.6,126.1 277.3,127.0 278.1,126.9 278.9,127.6 279.6,127.2 280.4,128.1 281.1,127.4 281.9,129.4 282.6,128.0 283.4,128.4 284.1,127.6 284.8,128.8 285.6,128.5 286.3,129.9 287.0,129.5 287.8,130.5 288.5,129.8 289.3,129.3 290.0,130.3 290.8,129.9 291.5,129.9 292.3,129.8 293.0,129.8 293.8,128.8 294.5,129.2 295.3,129.3 296.0,130.0 296.8,129.8 297.5,130.2 298.3,129.8 299.0,130.6 299.8,129.2 300.5,130.3 301.3,129.9 302.0,130.3 302.8,131.2 303.5,130.2 304.3,129.6 305.0,130.5 305.8,130.8 306.6,130.4 307.3,130.4 308.1,130.3 308.8,130.1 309.6,130.3 310.3,130.6 311.1,129.7 311.8,129.5 312.6,130.4 313.3,130.2 314.1,130.5 314.8,129.9 315.6,130.2 316.3,130.3 317.1,130.3 317.8,130.0 318.6,130.4 319.3,130.7 320.1,131.0 320.9,129.9 321.6,130.2 322.4,130.9 323.1,129.9 323.9,130.6 324.6,130.3 325.4,131.0 326.1,131.0 326.9,130.8 327.6,131.1 328.4,131.2 329.1,131.0 329.9,131.0 330.6,131.1 331.4,129.8 332.1,130.7 332.9,131.3 333.6,131.1 334.4,131.3 335.1,131.2 335.9,130.2 336.7,130.4 337.4,130.4 338.2,131.1 338.9,130.8 339.7,130.9 340.4,129.5 341.2,130.8 341.9,131.3 342.7,131.2 343.4,130.7 344.2,131.3 344.9,131.2 345.7,131.1 346.4,131.0 347.2,131.3 347.9,131.2 348.7,131.3 349.4,131.0 350.2,130.1 351.0,130.7 351.7,131.3 352.5,131.2 353.2,131.1 354.0,131.1 354.7,131.3 355.5,130.9 356.2,131.3 357.0,130.8 357.7,131.3 358.5,131.3 359.2,131.2 360.0,131.3 360.7,131.2 361.5,131.3 362.2,130.6 363.0,131.3 363.7,131.3 364.5,131.3 365.2,131.2 366.0,131.3" fill="none" stroke="#74a898" stroke-width="1.05" stroke-linejoin="round" opacity="1.0"/>
<polyline points="124.0,128.2 124.7,128.9 125.5,127.9 126.2,128.9 127.0,128.9 127.7,128.5 128.5,128.5 129.2,128.1 129.9,128.5 130.7,129.5 131.4,129.0 132.2,128.6 132.9,128.6 133.7,128.9 134.4,128.2 135.1,128.9 135.9,128.5 136.6,128.6 137.4,128.6 138.1,128.0 138.9,129.1 139.6,129.3 140.3,128.9 141.1,127.9 141.8,129.1 142.6,128.8 143.3,128.6 144.1,128.0 144.8,128.3 145.5,129.0 146.3,128.0 147.0,127.8 147.8,127.8 148.5,128.6 149.3,128.1 150.0,127.5 150.8,128.3 151.5,127.3 152.3,128.6 153.0,129.4 153.8,127.4 154.6,128.4 155.3,128.8 156.1,128.2 156.9,128.0 157.6,128.0 158.4,128.0 159.1,128.4 159.9,127.7 160.7,128.2 161.4,128.4 162.2,128.5 163.0,127.5 163.7,128.1 164.5,128.1 165.2,127.2 166.0,127.8 166.8,127.5 167.5,126.8 168.2,127.0 169.0,127.7 169.8,127.3 170.5,126.8 171.2,125.9 172.0,125.9 172.8,125.1 173.5,125.3 174.2,124.6 175.0,125.6 175.8,124.4 176.5,124.8 177.2,123.3 178.0,123.8 178.7,122.5 179.5,123.5 180.2,122.5 180.9,122.3 181.6,123.2 182.4,122.4 183.1,122.1 183.8,122.8 184.5,121.5 185.3,121.6 186.0,121.8 186.7,121.1 187.5,120.2 188.2,119.1 189.0,119.9 189.7,119.2 190.5,119.2 191.2,119.1 192.0,117.6 192.7,118.3 193.5,117.3 194.2,117.4 195.0,116.6 195.7,117.5 196.5,116.0 197.3,115.7 198.1,117.7 198.8,117.8 199.6,117.5 200.4,120.1 201.2,120.0 202.0,121.4 202.7,119.4 203.5,120.3 204.2,121.4 205.0,120.9 205.7,121.0 206.5,120.1 207.2,120.4 208.0,119.8 208.7,119.7 209.4,119.8 210.2,120.3 210.9,120.8 211.7,119.7 212.4,118.5 213.2,121.8 213.9,119.3 214.7,119.5 215.4,120.3 216.1,118.8 216.9,120.1 217.6,120.8 218.4,121.0 219.1,120.7 219.8,122.7 220.6,121.4 221.3,121.3 222.0,122.2 222.8,121.5 223.5,122.3 224.3,121.8 225.0,122.7 225.8,122.1 226.6,122.5 227.3,122.0 228.1,120.8 228.9,120.8 229.7,120.8 230.4,120.4 231.2,119.4 232.0,119.1 232.8,116.4 233.5,118.0 234.3,117.0 235.0,116.5 235.8,114.5 236.5,113.6 237.3,114.1 238.0,113.0 238.8,112.0 239.6,108.7 240.4,109.3 241.1,107.8 241.9,104.6 242.7,107.5 243.4,102.1 244.2,94.9 245.0,98.1 245.8,94.9 246.6,96.4 247.4,96.6 248.2,90.5 249.0,88.6 249.8,86.8 250.5,83.4 251.3,80.7 252.0,80.0 252.7,80.6 253.3,75.9 254.0,68.7 254.7,67.0 255.5,66.0 256.3,63.7 257.0,63.6 257.8,64.3 258.6,59.1 259.4,57.1 260.2,57.9 260.9,54.1 261.7,52.9 262.5,49.0 263.2,48.4 264.0,47.7 264.8,47.2 265.6,39.3 266.5,38.2 267.3,40.1 268.1,35.1 268.9,36.1 269.6,31.2 270.4,32.4 271.2,28.5 272.0,33.6 272.7,31.2 273.5,36.3 274.2,36.2 275.0,38.0 275.8,41.6 276.6,45.5 277.4,46.3 278.2,49.4 279.0,53.1 279.8,55.3 280.6,54.8 281.4,56.8 282.2,62.7 283.0,60.6 283.8,66.3 284.5,71.1 285.3,69.5 286.1,73.1 286.8,78.4 287.6,81.3 288.4,83.5 289.2,86.0 290.0,90.3 290.8,88.4 291.6,88.9 292.4,95.0 293.2,99.3 293.9,100.4 294.7,99.8 295.5,104.7 296.2,104.6 297.0,110.2 297.8,108.7 298.6,109.6 299.4,111.4 300.1,115.3 300.9,117.4 301.7,117.8 302.5,117.7 303.3,121.1 304.1,121.8 304.9,122.2 305.7,122.4 306.5,123.3 307.2,125.3 308.0,124.1 308.8,125.5 309.6,127.0 310.3,128.0 311.0,126.9 311.8,126.6 312.5,127.7 313.2,127.0 313.9,127.2 314.7,128.2 315.4,127.2 316.1,128.0 316.8,128.7 317.6,128.2 318.3,127.8 319.0,127.9 319.7,127.8 320.5,127.9 321.2,128.4 321.9,129.0 322.7,128.7 323.4,129.1 324.1,128.9 324.9,129.9 325.6,129.5 326.3,128.7 327.1,129.2 327.8,130.3 328.5,129.5 329.3,130.5 330.0,128.7 330.8,129.2 331.5,129.5 332.2,129.6 333.0,130.7 333.8,130.7 334.5,129.9 335.2,130.6 336.0,130.5 336.8,130.5 337.5,131.1 338.2,130.6 339.0,130.4 339.8,130.4 340.5,130.1 341.2,130.7 342.0,130.7 342.8,130.6 343.5,131.0 344.2,130.8 345.0,130.2 345.8,130.8 346.5,131.3 347.2,131.3 348.0,131.0 348.8,131.3 349.5,131.2 350.2,131.0 351.0,131.3 351.8,130.6 352.5,131.0 353.2,130.7 354.0,130.7 354.8,131.2 355.5,130.7 356.2,131.3 357.0,131.2 357.8,131.1 358.5,130.9 359.2,131.3 360.0,131.0 360.8,130.9 361.5,131.2 362.2,131.1 363.0,131.3 363.8,131.3 364.5,131.3 365.2,131.3 366.0,131.3" fill="none" stroke="#463e78" stroke-width="1.05" stroke-linejoin="round" opacity="1.0"/>
<polyline points="124.0,128.8 124.8,129.5 125.5,129.7 126.2,128.9 127.0,130.0 127.8,129.7 128.5,129.2 129.2,129.6 130.0,127.8 130.8,130.5 131.5,128.5 132.2,129.1 133.0,130.0 133.8,129.8 134.5,129.0 135.2,129.1 136.0,129.3 136.8,129.9 137.5,129.5 138.2,129.4 139.0,130.0 139.8,129.5 140.5,128.7 141.2,130.6 142.0,129.0 142.8,129.1 143.5,128.9 144.2,128.6 145.0,130.0 145.8,129.5 146.5,128.9 147.2,129.3 148.0,128.8 148.8,129.2 149.5,130.0 150.2,129.3 151.0,129.4 151.8,129.7 152.5,129.7 153.2,129.0 154.0,129.5 154.8,130.1 155.5,128.5 156.2,129.0 157.0,129.6 157.8,130.5 158.5,130.3 159.2,129.7 160.0,129.5 160.7,130.6 161.5,129.4 162.2,129.7 163.0,130.0 163.7,129.4 164.4,129.5 165.2,128.9 165.9,128.6 166.7,128.9 167.4,129.1 168.1,128.7 168.9,128.5 169.6,128.9 170.4,128.7 171.1,128.2 171.9,128.3 172.6,129.3 173.3,129.8 174.1,128.8 174.8,128.9 175.6,128.2 176.3,129.2 177.0,127.7 177.8,129.0 178.5,128.4 179.3,128.4 180.0,128.6 180.7,128.0 181.5,128.1 182.2,128.5 183.0,127.1 183.7,127.7 184.4,126.7 185.2,127.2 185.9,127.4 186.7,127.7 187.4,126.4 188.1,127.1 188.9,126.7 189.6,126.7 190.4,126.6 191.1,126.0 191.9,125.7 192.6,125.8 193.3,124.9 194.1,125.7 194.8,125.6 195.6,125.3 196.3,124.1 197.0,124.5 197.8,123.7 198.5,124.4 199.3,123.4 200.0,124.0 200.7,123.7 201.5,123.9 202.2,123.7 202.9,123.8 203.7,123.5 204.4,122.9 205.1,123.1 205.9,122.6 206.6,123.1 207.3,121.5 208.1,123.0 208.8,121.6 209.5,121.4 210.3,121.6 211.0,121.9 211.7,122.2 212.5,121.3 213.2,121.3 213.9,120.9 214.7,120.1 215.4,121.2 216.2,119.9 216.9,119.2 217.6,119.2 218.4,119.6 219.1,119.0 219.8,118.4 220.6,119.6 221.3,118.8 222.1,118.8 222.8,118.5 223.5,118.0 224.3,117.6 225.0,116.7 225.8,115.8 226.6,116.3 227.3,114.9 228.1,116.2 228.9,114.9 229.7,113.5 230.4,113.9 231.2,114.7 232.0,116.7 232.7,111.7 233.4,110.9 234.1,111.6 234.8,110.7 235.6,108.7 236.3,111.7 237.0,112.1 237.7,107.1 238.5,107.2 239.2,108.8 240.0,101.1 240.8,106.4 241.5,106.0 242.3,107.2 243.0,104.4 243.7,104.0 244.4,103.7 245.2,104.5 245.9,107.3 246.6,107.8 247.3,105.9 248.0,106.6 248.7,107.7 249.4,108.0 250.2,109.9 250.9,106.4 251.6,108.9 252.4,113.0 253.1,111.5 253.8,109.2 254.5,112.4 255.2,107.9 256.0,110.2 256.7,107.6 257.4,110.1 258.2,107.9 258.9,108.3 259.6,107.2 260.3,107.5 261.1,108.5 261.8,110.5 262.5,112.0 263.3,109.8 264.0,110.5 264.8,111.5 265.5,112.2 266.2,113.4 267.0,116.2 267.7,113.2 268.4,114.6 269.1,113.2 269.9,112.2 270.6,111.4 271.3,110.0 272.1,111.4 272.8,109.4 273.5,108.9 274.2,109.2 274.9,109.6 275.7,109.1 276.4,104.3 277.1,106.2 277.8,101.5 278.5,106.0 279.2,100.3 280.0,100.3 280.7,104.9 281.4,100.9 282.2,99.5 282.9,99.1 283.7,97.0 284.5,97.4 285.3,95.7 286.1,94.0 286.8,92.2 287.6,91.4 288.4,90.2 289.2,90.3 290.0,88.1 290.8,87.9 291.6,79.3 292.4,81.5 293.2,78.3 293.9,79.6 294.7,80.5 295.5,72.4 296.2,76.2 297.0,74.0 297.8,74.1 298.6,69.7 299.4,72.6 300.1,73.7 300.9,70.5 301.7,69.3 302.5,69.1 303.3,69.4 304.1,67.4 304.8,68.8 305.6,69.2 306.4,71.0 307.1,70.6 307.9,69.4 308.6,70.4 309.4,69.1 310.1,64.4 310.9,70.1 311.6,69.2 312.4,71.6 313.1,73.7 313.9,73.7 314.6,74.7 315.4,72.8 316.2,74.1 316.9,74.8 317.7,69.7 318.5,69.4 319.2,64.8 320.0,70.1 320.8,75.8 321.5,74.0 322.2,73.6 323.0,75.5 323.8,77.2 324.6,81.9 325.3,80.8 326.1,88.8 326.9,89.2 327.6,87.2 328.4,92.9 329.2,92.8 330.0,94.6 330.8,96.4 331.5,96.1 332.3,101.4 333.1,102.1 333.9,103.5 334.7,105.9 335.4,106.4 336.2,103.0 337.0,107.4 337.8,109.7 338.5,108.8 339.2,112.0 340.0,107.4 340.8,109.2 341.5,109.6 342.2,110.9 343.0,114.5 343.8,115.7 344.5,115.1 345.2,117.3 346.0,122.4 346.8,119.7 347.6,121.6 348.4,122.0 349.1,122.8 349.9,122.7 350.7,123.5 351.5,124.1 352.3,124.9 353.1,125.5 353.9,126.0 354.6,127.0 355.4,126.2 356.2,127.7 356.9,127.6 357.7,129.3 358.5,128.3 359.2,128.6 360.0,129.8 360.8,130.6 361.5,130.1 362.2,131.3 363.0,131.1" fill="none" stroke="#b24e86" stroke-width="1.05" stroke-linejoin="round" opacity="1.0"/>
<line x1="124.4" y1="17.5" x2="124.4" y2="131.5" stroke="#3a2e84" stroke-width="2.2"/>
<line x1="124.6" y1="17.5" x2="124.6" y2="28" stroke="#3b7a66" stroke-width="1.4"/>
<line x1="124.6" y1="110" x2="124.6" y2="131" stroke="#8a3a70" stroke-width="1.4" opacity="0.45"/>
<line x1="123.2" y1="17.5" x2="123.2" y2="131.5" stroke="#222" stroke-width="0.8"/>
<line x1="123" y1="131.5" x2="366" y2="131.5" stroke="#222" stroke-width="1.1"/>
<line x1="120.2" y1="131.3" x2="123.2" y2="131.3" stroke="#222" stroke-width="0.8"/>
<line x1="121.4" y1="122.7" x2="123.2" y2="122.7" stroke="#222" stroke-width="0.8"/>
<line x1="121.4" y1="114.1" x2="123.2" y2="114.1" stroke="#222" stroke-width="0.8"/>
<line x1="121.4" y1="105.4" x2="123.2" y2="105.4" stroke="#222" stroke-width="0.8"/>
<line x1="121.4" y1="96.8" x2="123.2" y2="96.8" stroke="#222" stroke-width="0.8"/>
<line x1="120.2" y1="88.2" x2="123.2" y2="88.2" stroke="#222" stroke-width="0.8"/>
<line x1="121.4" y1="79.6" x2="123.2" y2="79.6" stroke="#222" stroke-width="0.8"/>
<line x1="121.4" y1="71.0" x2="123.2" y2="71.0" stroke="#222" stroke-width="0.8"/>
<line x1="121.4" y1="62.3" x2="123.2" y2="62.3" stroke="#222" stroke-width="0.8"/>
<line x1="121.4" y1="53.7" x2="123.2" y2="53.7" stroke="#222" stroke-width="0.8"/>
<line x1="120.2" y1="45.1" x2="123.2" y2="45.1" stroke="#222" stroke-width="0.8"/>
<line x1="121.4" y1="36.5" x2="123.2" y2="36.5" stroke="#222" stroke-width="0.8"/>
<line x1="121.4" y1="27.9" x2="123.2" y2="27.9" stroke="#222" stroke-width="0.8"/>
<line x1="121.4" y1="19.2" x2="123.2" y2="19.2" stroke="#222" stroke-width="0.8"/>
<line x1="124.0" y1="131.5" x2="124.0" y2="134.5" stroke="#222" stroke-width="0.8"/>
<line x1="144.7" y1="131.5" x2="144.7" y2="133.3" stroke="#222" stroke-width="0.8"/>
<line x1="156.8" y1="131.5" x2="156.8" y2="133.3" stroke="#222" stroke-width="0.8"/>
<line x1="165.4" y1="131.5" x2="165.4" y2="133.3" stroke="#222" stroke-width="0.8"/>
<line x1="172.1" y1="131.5" x2="172.1" y2="133.3" stroke="#222" stroke-width="0.8"/>
<line x1="177.5" y1="131.5" x2="177.5" y2="133.3" stroke="#222" stroke-width="0.8"/>
<line x1="182.1" y1="131.5" x2="182.1" y2="133.3" stroke="#222" stroke-width="0.8"/>
<line x1="186.1" y1="131.5" x2="186.1" y2="133.3" stroke="#222" stroke-width="0.8"/>
<line x1="189.7" y1="131.5" x2="189.7" y2="133.3" stroke="#222" stroke-width="0.8"/>
<line x1="192.8" y1="131.5" x2="192.8" y2="134.5" stroke="#222" stroke-width="0.8"/>
<line x1="213.5" y1="131.5" x2="213.5" y2="133.3" stroke="#222" stroke-width="0.8"/>
<line x1="225.6" y1="131.5" x2="225.6" y2="133.3" stroke="#222" stroke-width="0.8"/>
<line x1="234.2" y1="131.5" x2="234.2" y2="133.3" stroke="#222" stroke-width="0.8"/>
<line x1="240.9" y1="131.5" x2="240.9" y2="133.3" stroke="#222" stroke-width="0.8"/>
<line x1="246.3" y1="131.5" x2="246.3" y2="133.3" stroke="#222" stroke-width="0.8"/>
<line x1="250.9" y1="131.5" x2="250.9" y2="133.3" stroke="#222" stroke-width="0.8"/>
<line x1="254.9" y1="131.5" x2="254.9" y2="133.3" stroke="#222" stroke-width="0.8"/>
<line x1="258.5" y1="131.5" x2="258.5" y2="133.3" stroke="#222" stroke-width="0.8"/>
<line x1="261.6" y1="131.5" x2="261.6" y2="134.5" stroke="#222" stroke-width="0.8"/>
<line x1="282.3" y1="131.5" x2="282.3" y2="133.3" stroke="#222" stroke-width="0.8"/>
<line x1="294.4" y1="131.5" x2="294.4" y2="133.3" stroke="#222" stroke-width="0.8"/>
<line x1="303.0" y1="131.5" x2="303.0" y2="133.3" stroke="#222" stroke-width="0.8"/>
<line x1="309.7" y1="131.5" x2="309.7" y2="133.3" stroke="#222" stroke-width="0.8"/>
<line x1="315.1" y1="131.5" x2="315.1" y2="133.3" stroke="#222" stroke-width="0.8"/>
<line x1="319.7" y1="131.5" x2="319.7" y2="133.3" stroke="#222" stroke-width="0.8"/>
<line x1="323.7" y1="131.5" x2="323.7" y2="133.3" stroke="#222" stroke-width="0.8"/>
<line x1="327.3" y1="131.5" x2="327.3" y2="133.3" stroke="#222" stroke-width="0.8"/>
<line x1="330.4" y1="131.5" x2="330.4" y2="134.5" stroke="#222" stroke-width="0.8"/>
<line x1="351.1" y1="131.5" x2="351.1" y2="133.3" stroke="#222" stroke-width="0.8"/>
<line x1="363.2" y1="131.5" x2="363.2" y2="133.3" stroke="#222" stroke-width="0.8"/>
<text transform="translate(117.5,131.8) rotate(-90)" font-size="7.5" fill="#333" text-anchor="middle">0</text>
<text transform="translate(117.5,88.7) rotate(-90)" font-size="7.5" fill="#333" text-anchor="middle">40</text>
<text transform="translate(117.5,45.6) rotate(-90)" font-size="7.5" fill="#333" text-anchor="middle">80</text>
<text x="118.6" y="143.6" font-size="7.8" fill="#333" textLength="6.2" lengthAdjust="spacingAndGlyphs">10</text>
<text x="125.1" y="140.3" font-size="7" fill="#333" textLength="3" lengthAdjust="spacingAndGlyphs">0</text>
<text x="187.4" y="143.6" font-size="7.8" fill="#333" textLength="6.2" lengthAdjust="spacingAndGlyphs">10</text>
<text x="193.9" y="140.3" font-size="7" fill="#333" textLength="3" lengthAdjust="spacingAndGlyphs">1</text>
<text x="256.2" y="143.6" font-size="7.8" fill="#333" textLength="6.2" lengthAdjust="spacingAndGlyphs">10</text>
<text x="262.7" y="140.3" font-size="7" fill="#333" textLength="3" lengthAdjust="spacingAndGlyphs">2</text>
<text x="325.0" y="143.6" font-size="7.8" fill="#333" textLength="6.2" lengthAdjust="spacingAndGlyphs">10</text>
<text x="331.5" y="140.3" font-size="7" fill="#333" textLength="3" lengthAdjust="spacingAndGlyphs">3</text>
<text transform="translate(104.5,71) rotate(-90)" font-size="11.3" fill="#222" text-anchor="middle">Cell no.</text>
<text x="242.5" y="159.6" font-size="11.2" fill="#222" text-anchor="middle" font-weight="normal"  stroke="#222" stroke-width="0.1">Fluorescence</text>
<text x="214.5" y="8.8" font-size="9.3" fill="#237a48" text-anchor="start" font-weight="normal" stroke="#237a48" stroke-width="0.3">UVB 100 J/m<tspan dy="-3.72" font-size="6.14">2</tspan><tspan dy="3.72"></tspan></text>
<text x="214.5" y="20" font-size="9.3" fill="#6fa890" text-anchor="start" font-weight="normal"  stroke="#6fa890" stroke-width="0.1">UVB 200 J/m<tspan dy="-3.72" font-size="6.14">2</tspan><tspan dy="3.72"></tspan></text>
<text x="162.5" y="29.7" font-size="9.3" fill="#3c3a78" text-anchor="start" font-weight="normal"  stroke="#3c3a78" stroke-width="0.1">UVC 10 J/m<tspan dy="-3.72" font-size="6.14">2</tspan><tspan dy="3.72"></tspan></text>
<text x="162.5" y="40.4" font-size="9.3" fill="#8ccbe0" text-anchor="start" font-weight="normal"  stroke="#8ccbe0" stroke-width="0.1">UVC 20 J/m<tspan dy="-3.72" font-size="6.14">2</tspan><tspan dy="3.72"></tspan></text>
<text x="280" y="37.7" font-size="9.3" fill="#5e5e86" text-anchor="start" font-weight="normal"  stroke="#5e5e86" stroke-width="0.1">UVA 100 kJ/m<tspan dy="-3.72" font-size="6.14">2</tspan><tspan dy="3.72"></tspan></text>
<text x="292.2" y="63.7" font-size="9.3" fill="#a55a85" text-anchor="start" font-weight="normal"  stroke="#a55a85" stroke-width="0.1">UVA 200 kJ/m<tspan dy="-3.72" font-size="6.14">2</tspan><tspan dy="3.72"></tspan></text>
<text x="139.5" y="76.3" font-size="8.9" fill="#8a665a" text-anchor="start" font-weight="normal"  stroke="#8a665a" stroke-width="0.1">Untreated</text>
<text x="2" y="190" font-size="12.5" fill="#111" text-anchor="start" font-weight="bold" >B</text>
<text x="34.5" y="211.3" font-size="11.4" fill="#222" text-anchor="start" font-weight="normal"  stroke="#222" stroke-width="0.1">UVA (kJ/m<tspan dy="-4.56" font-size="7.52">2</tspan><tspan dy="4.56">)</tspan></text>
<text x="106.5" y="211.3" font-size="11.4" fill="#222" text-anchor="start" font-weight="normal"  stroke="#222" stroke-width="0.1">UVB (J/m<tspan dy="-4.56" font-size="7.52">2</tspan><tspan dy="4.56">)</tspan></text>
<text x="178.6" y="211.3" font-size="11.4" fill="#222" text-anchor="start" font-weight="normal"  stroke="#222" stroke-width="0.1">UVC (J/m<tspan dy="-4.56" font-size="7.52">2</tspan><tspan dy="4.56">)</tspan></text>
<line x1="36" y1="216.6" x2="94.5" y2="216.6" stroke="#111" stroke-width="2"/>
<line x1="103" y1="216.6" x2="164.8" y2="216.6" stroke="#111" stroke-width="2"/>
<line x1="172.3" y1="216.6" x2="232" y2="216.6" stroke="#111" stroke-width="2"/>
<text x="19.6" y="232.6" font-size="9.4" fill="#222" text-anchor="middle" font-weight="normal"  stroke="#222" stroke-width="0.1">0</text>
<text x="41.5" y="232.6" font-size="9.4" fill="#222" text-anchor="middle" font-weight="normal"  stroke="#222" stroke-width="0.1">50</text>
<text x="63" y="232.6" font-size="9.4" fill="#222" text-anchor="middle" font-weight="normal"  stroke="#222" stroke-width="0.1">100</text>
<text x="86.5" y="232.6" font-size="9.4" fill="#222" text-anchor="middle" font-weight="normal"  stroke="#222" stroke-width="0.1">200</text>
<text x="109.5" y="232.6" font-size="9.4" fill="#222" text-anchor="middle" font-weight="normal"  stroke="#222" stroke-width="0.1">50</text>
<text x="133.2" y="232.6" font-size="9.4" fill="#222" text-anchor="middle" font-weight="normal"  stroke="#222" stroke-width="0.1">100</text>
<text x="156.3" y="232.6" font-size="9.4" fill="#222" text-anchor="middle" font-weight="normal"  stroke="#222" stroke-width="0.1">200</text>
<text x="180.3" y="232.6" font-size="9.4" fill="#222" text-anchor="middle" font-weight="normal"  stroke="#222" stroke-width="0.1">5</text>
<text x="202.2" y="232.6" font-size="9.4" fill="#222" text-anchor="middle" font-weight="normal"  stroke="#222" stroke-width="0.1">10</text>
<text x="224.6" y="232.6" font-size="9.4" fill="#222" text-anchor="middle" font-weight="normal"  stroke="#222" stroke-width="0.1">20</text>
<rect x="12" y="241" width="224.5" height="70.5" fill="#e8e8e8" filter="url(#blurE)"/>
<path d="M13.2,241.3 L27.2,241.3 L25.0,311.3 L13.0,311.3 Z" fill="url(#gB0)" filter="url(#blurB)"/>
<rect x="13.7" y="241" width="13.0" height="1.6" fill="#000" opacity="0.4" filter="url(#blurC)"/>
<path d="M36.1,241.3 L48.6,241.3 L47.5,311.3 L36.5,311.3 Z" fill="url(#gB1)" filter="url(#blurB)"/>
<rect x="36.6" y="241" width="11.5" height="1.6" fill="#000" opacity="0.4" filter="url(#blurC)"/>
<path d="M57.6,241.3 L70.0,241.3 L68.3,311.3 L59.8,311.3 Z" fill="url(#gB2)" filter="url(#blurB)"/>
<rect x="58.1" y="241" width="11.4" height="1.6" fill="#000" opacity="0.4" filter="url(#blurC)"/>
<path d="M80.1,241.3 L93.9,241.3 L91.1,311.3 L82.1,311.3 Z" fill="url(#gB3)" filter="url(#blurB)"/>
<rect x="80.6" y="241" width="12.8" height="1.6" fill="#000" opacity="0.4" filter="url(#blurC)"/>
<path d="M104.0,241.3 L115.6,241.3 L114.2,311.3 L105.8,311.3 Z" fill="url(#gB4)" filter="url(#blurB)"/>
<rect x="104.5" y="241" width="10.6" height="1.6" fill="#000" opacity="0.4" filter="url(#blurC)"/>
<path d="M127.4,241.3 L139.0,241.3 L137.4,311.3 L128.9,311.3 Z" fill="url(#gB5)" filter="url(#blurB)"/>
<rect x="127.9" y="241" width="10.6" height="1.6" fill="#000" opacity="0.4" filter="url(#blurC)"/>
<path d="M150.0,241.3 L161.2,241.3 L159.8,311.3 L151.3,311.3 Z" fill="url(#gB6)" filter="url(#blurB)"/>
<rect x="150.5" y="241" width="10.2" height="1.6" fill="#000" opacity="0.4" filter="url(#blurC)"/>
<path d="M173.0,241.3 L183.8,241.3 L182.7,311.3 L174.2,311.3 Z" fill="url(#gB7)" filter="url(#blurB)"/>
<rect x="173.5" y="241" width="9.8" height="1.6" fill="#000" opacity="0.4" filter="url(#blurC)"/>
<path d="M195.9,241.3 L207.4,241.3 L206.2,311.3 L197.2,311.3 Z" fill="url(#gB8)" filter="url(#blurB)"/>
<rect x="196.4" y="241" width="10.5" height="1.6" fill="#000" opacity="0.4" filter="url(#blurC)"/>
<path d="M217.7,241.3 L230.7,241.3 L231.0,311.3 L220.0,311.3 Z" fill="url(#gB9)" filter="url(#blurB)"/>
<rect x="218.2" y="241" width="12.0" height="1.6" fill="#000" opacity="0.4" filter="url(#blurC)"/>
<rect x="14.0" y="249.1" width="12.2" height="1" fill="#000" opacity="0.03" filter="url(#blurC)"/>
<rect x="14.0" y="253.0" width="12.0" height="1" fill="#000" opacity="0.03" filter="url(#blurC)"/>
<rect x="14.0" y="257.1" width="11.9" height="1" fill="#000" opacity="0.01" filter="url(#blurC)"/>
<rect x="13.9" y="259.8" width="11.8" height="1" fill="#000" opacity="0.04" filter="url(#blurC)"/>
<rect x="13.9" y="263.9" width="11.7" height="1" fill="#000" opacity="0.02" filter="url(#blurC)"/>
<rect x="13.9" y="268.8" width="11.6" height="1" fill="#000" opacity="0.03" filter="url(#blurC)"/>
<rect x="13.9" y="272.2" width="11.5" height="1" fill="#000" opacity="0.03" filter="url(#blurC)"/>
<rect x="13.9" y="275.6" width="11.4" height="1" fill="#000" opacity="0.02" filter="url(#blurC)"/>
<rect x="13.9" y="279.3" width="11.3" height="1" fill="#000" opacity="0.04" filter="url(#blurC)"/>
<rect x="13.9" y="282.8" width="11.2" height="1" fill="#000" opacity="0.04" filter="url(#blurC)"/>
<rect x="13.9" y="286.8" width="11.1" height="1" fill="#000" opacity="0.01" filter="url(#blurC)"/>
<rect x="13.9" y="290.6" width="11.0" height="1" fill="#000" opacity="0.03" filter="url(#blurC)"/>
<rect x="13.8" y="293.6" width="10.9" height="1" fill="#000" opacity="0.01" filter="url(#blurC)"/>
<rect x="13.8" y="298.2" width="10.8" height="1" fill="#000" opacity="0.03" filter="url(#blurC)"/>
<rect x="13.8" y="301.7" width="10.7" height="1" fill="#000" opacity="0.05" filter="url(#blurC)"/>
<rect x="13.8" y="305.3" width="10.5" height="1" fill="#000" opacity="0.05" filter="url(#blurC)"/>
<rect x="13.9" y="268.0" width="11.6" height="1.4" fill="#000" opacity="0.05" filter="url(#blurC)"/>
<rect x="13.9" y="273.3" width="11.5" height="1.4" fill="#000" opacity="0.06" filter="url(#blurC)"/>
<rect x="13.9" y="279.6" width="11.3" height="1.4" fill="#000" opacity="0.07" filter="url(#blurC)"/>
<rect x="13.9" y="285.9" width="11.1" height="1.4" fill="#000" opacity="0.06" filter="url(#blurC)"/>
<rect x="37.0" y="249.3" width="10.7" height="1" fill="#000" opacity="0.04" filter="url(#blurC)"/>
<rect x="37.0" y="253.1" width="10.6" height="1" fill="#000" opacity="0.05" filter="url(#blurC)"/>
<rect x="37.0" y="257.5" width="10.5" height="1" fill="#000" opacity="0.01" filter="url(#blurC)"/>
<rect x="37.0" y="260.0" width="10.5" height="1" fill="#000" opacity="0.02" filter="url(#blurC)"/>
<rect x="37.1" y="265.0" width="10.4" height="1" fill="#000" opacity="0.03" filter="url(#blurC)"/>
<rect x="37.1" y="268.2" width="10.3" height="1" fill="#000" opacity="0.02" filter="url(#blurC)"/>
<rect x="37.1" y="271.7" width="10.2" height="1" fill="#000" opacity="0.03" filter="url(#blurC)"/>
<rect x="37.1" y="275.2" width="10.2" height="1" fill="#000" opacity="0.03" filter="url(#blurC)"/>
<rect x="37.1" y="279.2" width="10.1" height="1" fill="#000" opacity="0.05" filter="url(#blurC)"/>
<rect x="37.2" y="283.1" width="10.0" height="1" fill="#000" opacity="0.05" filter="url(#blurC)"/>
<rect x="37.2" y="287.1" width="9.9" height="1" fill="#000" opacity="0.05" filter="url(#blurC)"/>
<rect x="37.2" y="290.5" width="9.8" height="1" fill="#000" opacity="0.02" filter="url(#blurC)"/>
<rect x="37.2" y="294.5" width="9.7" height="1" fill="#000" opacity="0.05" filter="url(#blurC)"/>
<rect x="37.2" y="298.2" width="9.7" height="1" fill="#000" opacity="0.03" filter="url(#blurC)"/>
<rect x="37.3" y="301.6" width="9.6" height="1" fill="#000" opacity="0.02" filter="url(#blurC)"/>
<rect x="37.3" y="305.5" width="9.5" height="1" fill="#000" opacity="0.03" filter="url(#blurC)"/>
<rect x="37.1" y="268.0" width="10.3" height="1.4" fill="#000" opacity="0.05" filter="url(#blurC)"/>
<rect x="37.1" y="273.3" width="10.2" height="1.4" fill="#000" opacity="0.06" filter="url(#blurC)"/>
<rect x="37.1" y="279.6" width="10.1" height="1.4" fill="#000" opacity="0.07" filter="url(#blurC)"/>
<rect x="37.2" y="285.9" width="9.9" height="1.4" fill="#000" opacity="0.06" filter="url(#blurC)"/>
<rect x="58.7" y="249.2" width="10.3" height="1" fill="#000" opacity="0.01" filter="url(#blurC)"/>
<rect x="58.8" y="253.8" width="10.1" height="1" fill="#000" opacity="0.05" filter="url(#blurC)"/>
<rect x="58.9" y="256.2" width="9.9" height="1" fill="#000" opacity="0.04" filter="url(#blurC)"/>
<rect x="59.0" y="260.5" width="9.7" height="1" fill="#000" opacity="0.02" filter="url(#blurC)"/>
<rect x="59.2" y="264.0" width="9.5" height="1" fill="#000" opacity="0.04" filter="url(#blurC)"/>
<rect x="59.3" y="268.6" width="9.2" height="1" fill="#000" opacity="0.01" filter="url(#blurC)"/>
<rect x="59.4" y="271.9" width="9.1" height="1" fill="#000" opacity="0.01" filter="url(#blurC)"/>
<rect x="59.5" y="275.7" width="8.8" height="1" fill="#000" opacity="0.02" filter="url(#blurC)"/>
<rect x="59.7" y="279.7" width="8.6" height="1" fill="#000" opacity="0.05" filter="url(#blurC)"/>
<rect x="59.8" y="282.8" width="8.4" height="1" fill="#000" opacity="0.05" filter="url(#blurC)"/>
<rect x="59.9" y="286.2" width="8.3" height="1" fill="#000" opacity="0.01" filter="url(#blurC)"/>
<rect x="60.0" y="290.4" width="8.0" height="1" fill="#000" opacity="0.01" filter="url(#blurC)"/>
<rect x="60.1" y="293.4" width="7.9" height="1" fill="#000" opacity="0.03" filter="url(#blurC)"/>
<rect x="60.2" y="297.8" width="7.6" height="1" fill="#000" opacity="0.02" filter="url(#blurC)"/>
<rect x="60.3" y="300.6" width="7.5" height="1" fill="#000" opacity="0.04" filter="url(#blurC)"/>
<rect x="60.5" y="304.7" width="7.2" height="1" fill="#000" opacity="0.05" filter="url(#blurC)"/>
<rect x="59.3" y="268.0" width="9.3" height="1.4" fill="#000" opacity="0.05" filter="url(#blurC)"/>
<rect x="59.5" y="273.3" width="9.0" height="1.4" fill="#000" opacity="0.06" filter="url(#blurC)"/>
<rect x="59.7" y="279.6" width="8.6" height="1.4" fill="#000" opacity="0.07" filter="url(#blurC)"/>
<rect x="59.9" y="285.9" width="8.3" height="1.4" fill="#000" opacity="0.06" filter="url(#blurC)"/>
<rect x="81.2" y="250.1" width="11.5" height="1" fill="#000" opacity="0.03" filter="url(#blurC)"/>
<rect x="81.3" y="253.1" width="11.3" height="1" fill="#000" opacity="0.03" filter="url(#blurC)"/>
<rect x="81.4" y="257.1" width="11.1" height="1" fill="#000" opacity="0.03" filter="url(#blurC)"/>
<rect x="81.5" y="260.7" width="10.8" height="1" fill="#000" opacity="0.03" filter="url(#blurC)"/>
<rect x="81.6" y="265.0" width="10.5" height="1" fill="#000" opacity="0.03" filter="url(#blurC)"/>
<rect x="81.7" y="267.9" width="10.3" height="1" fill="#000" opacity="0.04" filter="url(#blurC)"/>
<rect x="81.8" y="271.3" width="10.1" height="1" fill="#000" opacity="0.02" filter="url(#blurC)"/>
<rect x="81.9" y="276.2" width="9.8" height="1" fill="#000" opacity="0.03" filter="url(#blurC)"/>
<rect x="82.0" y="279.2" width="9.5" height="1" fill="#000" opacity="0.01" filter="url(#blurC)"/>
<rect x="82.1" y="282.7" width="9.3" height="1" fill="#000" opacity="0.03" filter="url(#blurC)"/>
<rect x="82.2" y="285.7" width="9.1" height="1" fill="#000" opacity="0.03" filter="url(#blurC)"/>
<rect x="82.3" y="290.4" width="8.8" height="1" fill="#000" opacity="0.01" filter="url(#blurC)"/>
<rect x="82.4" y="294.1" width="8.5" height="1" fill="#000" opacity="0.03" filter="url(#blurC)"/>
<rect x="82.5" y="297.9" width="8.3" height="1" fill="#000" opacity="0.02" filter="url(#blurC)"/>
<rect x="82.6" y="301.6" width="8.0" height="1" fill="#000" opacity="0.04" filter="url(#blurC)"/>
<rect x="82.7" y="304.2" width="7.8" height="1" fill="#000" opacity="0.01" filter="url(#blurC)"/>
<rect x="81.7" y="268.0" width="10.3" height="1.4" fill="#000" opacity="0.05" filter="url(#blurC)"/>
<rect x="81.8" y="273.3" width="9.9" height="1.4" fill="#000" opacity="0.06" filter="url(#blurC)"/>
<rect x="82.0" y="279.6" width="9.5" height="1.4" fill="#000" opacity="0.07" filter="url(#blurC)"/>
<rect x="82.2" y="285.9" width="9.1" height="1.4" fill="#000" opacity="0.06" filter="url(#blurC)"/>
<rect x="105.0" y="249.8" width="9.6" height="1" fill="#000" opacity="0.05" filter="url(#blurC)"/>
<rect x="105.1" y="252.8" width="9.5" height="1" fill="#000" opacity="0.03" filter="url(#blurC)"/>
<rect x="105.2" y="257.0" width="9.3" height="1" fill="#000" opacity="0.02" filter="url(#blurC)"/>
<rect x="105.3" y="260.4" width="9.1" height="1" fill="#000" opacity="0.02" filter="url(#blurC)"/>
<rect x="105.4" y="264.1" width="9.0" height="1" fill="#000" opacity="0.03" filter="url(#blurC)"/>
<rect x="105.5" y="267.7" width="8.8" height="1" fill="#000" opacity="0.03" filter="url(#blurC)"/>
<rect x="105.6" y="272.1" width="8.6" height="1" fill="#000" opacity="0.01" filter="url(#blurC)"/>
<rect x="105.7" y="275.5" width="8.4" height="1" fill="#000" opacity="0.04" filter="url(#blurC)"/>
<rect x="105.8" y="278.8" width="8.3" height="1" fill="#000" opacity="0.02" filter="url(#blurC)"/>
<rect x="105.9" y="283.3" width="8.1" height="1" fill="#000" opacity="0.02" filter="url(#blurC)"/>
<rect x="105.9" y="286.0" width="8.0" height="1" fill="#000" opacity="0.03" filter="url(#blurC)"/>
<rect x="106.1" y="290.5" width="7.8" height="1" fill="#000" opacity="0.01" filter="url(#blurC)"/>
<rect x="106.1" y="293.6" width="7.6" height="1" fill="#000" opacity="0.02" filter="url(#blurC)"/>
<rect x="106.2" y="298.1" width="7.4" height="1" fill="#000" opacity="0.03" filter="url(#blurC)"/>
<rect x="106.3" y="301.9" width="7.3" height="1" fill="#000" opacity="0.02" filter="url(#blurC)"/>
<rect x="106.4" y="304.7" width="7.2" height="1" fill="#000" opacity="0.04" filter="url(#blurC)"/>
<rect x="105.5" y="268.0" width="8.8" height="1.4" fill="#000" opacity="0.05" filter="url(#blurC)"/>
<rect x="105.6" y="273.3" width="8.5" height="1.4" fill="#000" opacity="0.06" filter="url(#blurC)"/>
<rect x="105.8" y="279.6" width="8.3" height="1.4" fill="#000" opacity="0.07" filter="url(#blurC)"/>
<rect x="105.9" y="285.9" width="8.0" height="1.4" fill="#000" opacity="0.06" filter="url(#blurC)"/>
<rect x="128.4" y="250.1" width="9.6" height="1" fill="#000" opacity="0.03" filter="url(#blurC)"/>
<rect x="128.5" y="252.8" width="9.5" height="1" fill="#000" opacity="0.01" filter="url(#blurC)"/>
<rect x="128.6" y="256.9" width="9.3" height="1" fill="#000" opacity="0.02" filter="url(#blurC)"/>
<rect x="128.7" y="261.1" width="9.1" height="1" fill="#000" opacity="0.04" filter="url(#blurC)"/>
<rect x="128.7" y="263.8" width="9.0" height="1" fill="#000" opacity="0.02" filter="url(#blurC)"/>
<rect x="128.8" y="268.5" width="8.8" height="1" fill="#000" opacity="0.04" filter="url(#blurC)"/>
<rect x="128.9" y="272.2" width="8.6" height="1" fill="#000" opacity="0.02" filter="url(#blurC)"/>
<rect x="129.0" y="274.8" width="8.5" height="1" fill="#000" opacity="0.02" filter="url(#blurC)"/>
<rect x="129.1" y="279.6" width="8.3" height="1" fill="#000" opacity="0.02" filter="url(#blurC)"/>
<rect x="129.1" y="282.6" width="8.1" height="1" fill="#000" opacity="0.03" filter="url(#blurC)"/>
<rect x="129.2" y="286.4" width="8.0" height="1" fill="#000" opacity="0.03" filter="url(#blurC)"/>
<rect x="129.3" y="290.9" width="7.8" height="1" fill="#000" opacity="0.02" filter="url(#blurC)"/>
<rect x="129.4" y="293.1" width="7.7" height="1" fill="#000" opacity="0.05" filter="url(#blurC)"/>
<rect x="129.5" y="298.2" width="7.4" height="1" fill="#000" opacity="0.05" filter="url(#blurC)"/>
<rect x="129.5" y="301.2" width="7.3" height="1" fill="#000" opacity="0.05" filter="url(#blurC)"/>
<rect x="129.6" y="305.7" width="7.1" height="1" fill="#000" opacity="0.02" filter="url(#blurC)"/>
<rect x="128.8" y="268.0" width="8.8" height="1.4" fill="#000" opacity="0.05" filter="url(#blurC)"/>
<rect x="128.9" y="273.3" width="8.5" height="1.4" fill="#000" opacity="0.06" filter="url(#blurC)"/>
<rect x="129.1" y="279.6" width="8.3" height="1.4" fill="#000" opacity="0.07" filter="url(#blurC)"/>
<rect x="129.2" y="285.9" width="8.0" height="1.4" fill="#000" opacity="0.06" filter="url(#blurC)"/>
<rect x="151.0" y="249.9" width="9.2" height="1" fill="#000" opacity="0.04" filter="url(#blurC)"/>
<rect x="151.0" y="253.5" width="9.1" height="1" fill="#000" opacity="0.03" filter="url(#blurC)"/>
<rect x="151.1" y="256.6" width="9.0" height="1" fill="#000" opacity="0.02" filter="url(#blurC)"/>
<rect x="151.2" y="260.2" width="8.8" height="1" fill="#000" opacity="0.01" filter="url(#blurC)"/>
<rect x="151.3" y="264.4" width="8.7" height="1" fill="#000" opacity="0.02" filter="url(#blurC)"/>
<rect x="151.3" y="268.5" width="8.5" height="1" fill="#000" opacity="0.01" filter="url(#blurC)"/>
<rect x="151.4" y="272.3" width="8.4" height="1" fill="#000" opacity="0.04" filter="url(#blurC)"/>
<rect x="151.5" y="276.1" width="8.2" height="1" fill="#000" opacity="0.05" filter="url(#blurC)"/>
<rect x="151.6" y="279.7" width="8.1" height="1" fill="#000" opacity="0.03" filter="url(#blurC)"/>
<rect x="151.6" y="282.0" width="8.0" height="1" fill="#000" opacity="0.04" filter="url(#blurC)"/>
<rect x="151.7" y="286.0" width="7.8" height="1" fill="#000" opacity="0.02" filter="url(#blurC)"/>
<rect x="151.8" y="290.5" width="7.7" height="1" fill="#000" opacity="0.03" filter="url(#blurC)"/>
<rect x="151.8" y="293.8" width="7.5" height="1" fill="#000" opacity="0.05" filter="url(#blurC)"/>
<rect x="151.9" y="297.8" width="7.4" height="1" fill="#000" opacity="0.02" filter="url(#blurC)"/>
<rect x="152.0" y="300.9" width="7.3" height="1" fill="#000" opacity="0.04" filter="url(#blurC)"/>
<rect x="152.0" y="305.0" width="7.1" height="1" fill="#000" opacity="0.04" filter="url(#blurC)"/>
<rect x="151.3" y="268.0" width="8.5" height="1.4" fill="#000" opacity="0.05" filter="url(#blurC)"/>
<rect x="151.4" y="273.3" width="8.3" height="1.4" fill="#000" opacity="0.06" filter="url(#blurC)"/>
<rect x="151.6" y="279.6" width="8.1" height="1.4" fill="#000" opacity="0.07" filter="url(#blurC)"/>
<rect x="151.7" y="285.9" width="7.8" height="1.4" fill="#000" opacity="0.06" filter="url(#blurC)"/>
<rect x="173.9" y="249.3" width="8.9" height="1" fill="#000" opacity="0.02" filter="url(#blurC)"/>
<rect x="174.0" y="253.3" width="8.8" height="1" fill="#000" opacity="0.04" filter="url(#blurC)"/>
<rect x="174.1" y="256.4" width="8.7" height="1" fill="#000" opacity="0.04" filter="url(#blurC)"/>
<rect x="174.1" y="261.3" width="8.5" height="1" fill="#000" opacity="0.04" filter="url(#blurC)"/>
<rect x="174.2" y="264.8" width="8.4" height="1" fill="#000" opacity="0.01" filter="url(#blurC)"/>
<rect x="174.3" y="268.2" width="8.3" height="1" fill="#000" opacity="0.04" filter="url(#blurC)"/>
<rect x="174.3" y="271.0" width="8.2" height="1" fill="#000" opacity="0.02" filter="url(#blurC)"/>
<rect x="174.4" y="275.0" width="8.1" height="1" fill="#000" opacity="0.03" filter="url(#blurC)"/>
<rect x="174.4" y="279.0" width="7.9" height="1" fill="#000" opacity="0.03" filter="url(#blurC)"/>
<rect x="174.5" y="283.2" width="7.8" height="1" fill="#000" opacity="0.01" filter="url(#blurC)"/>
<rect x="174.5" y="285.8" width="7.7" height="1" fill="#000" opacity="0.02" filter="url(#blurC)"/>
<rect x="174.6" y="289.6" width="7.6" height="1" fill="#000" opacity="0.01" filter="url(#blurC)"/>
<rect x="174.7" y="294.7" width="7.4" height="1" fill="#000" opacity="0.04" filter="url(#blurC)"/>
<rect x="174.7" y="296.9" width="7.3" height="1" fill="#000" opacity="0.03" filter="url(#blurC)"/>
<rect x="174.8" y="301.0" width="7.2" height="1" fill="#000" opacity="0.02" filter="url(#blurC)"/>
<rect x="174.9" y="304.8" width="7.1" height="1" fill="#000" opacity="0.04" filter="url(#blurC)"/>
<rect x="174.3" y="268.0" width="8.3" height="1.4" fill="#000" opacity="0.05" filter="url(#blurC)"/>
<rect x="174.3" y="273.3" width="8.1" height="1.4" fill="#000" opacity="0.06" filter="url(#blurC)"/>
<rect x="174.4" y="279.6" width="7.9" height="1.4" fill="#000" opacity="0.07" filter="url(#blurC)"/>
<rect x="174.5" y="285.9" width="7.7" height="1.4" fill="#000" opacity="0.06" filter="url(#blurC)"/>
<rect x="196.9" y="249.6" width="9.6" height="1" fill="#000" opacity="0.02" filter="url(#blurC)"/>
<rect x="197.0" y="252.7" width="9.5" height="1" fill="#000" opacity="0.02" filter="url(#blurC)"/>
<rect x="197.0" y="256.3" width="9.3" height="1" fill="#000" opacity="0.03" filter="url(#blurC)"/>
<rect x="197.1" y="260.9" width="9.2" height="1" fill="#000" opacity="0.03" filter="url(#blurC)"/>
<rect x="197.2" y="263.6" width="9.1" height="1" fill="#000" opacity="0.02" filter="url(#blurC)"/>
<rect x="197.2" y="267.8" width="8.9" height="1" fill="#000" opacity="0.03" filter="url(#blurC)"/>
<rect x="197.3" y="272.2" width="8.8" height="1" fill="#000" opacity="0.03" filter="url(#blurC)"/>
<rect x="197.4" y="275.9" width="8.6" height="1" fill="#000" opacity="0.03" filter="url(#blurC)"/>
<rect x="197.4" y="279.0" width="8.5" height="1" fill="#000" opacity="0.02" filter="url(#blurC)"/>
<rect x="197.5" y="282.8" width="8.4" height="1" fill="#000" opacity="0.04" filter="url(#blurC)"/>
<rect x="197.6" y="286.4" width="8.3" height="1" fill="#000" opacity="0.04" filter="url(#blurC)"/>
<rect x="197.6" y="290.1" width="8.1" height="1" fill="#000" opacity="0.02" filter="url(#blurC)"/>
<rect x="197.7" y="294.0" width="8.0" height="1" fill="#000" opacity="0.04" filter="url(#blurC)"/>
<rect x="197.8" y="296.9" width="7.9" height="1" fill="#000" opacity="0.03" filter="url(#blurC)"/>
<rect x="197.8" y="301.2" width="7.7" height="1" fill="#000" opacity="0.05" filter="url(#blurC)"/>
<rect x="197.9" y="305.7" width="7.6" height="1" fill="#000" opacity="0.02" filter="url(#blurC)"/>
<rect x="197.2" y="268.0" width="8.9" height="1.4" fill="#000" opacity="0.05" filter="url(#blurC)"/>
<rect x="197.3" y="273.3" width="8.7" height="1.4" fill="#000" opacity="0.06" filter="url(#blurC)"/>
<rect x="197.5" y="279.6" width="8.5" height="1.4" fill="#000" opacity="0.07" filter="url(#blurC)"/>
<rect x="197.6" y="285.9" width="8.3" height="1.4" fill="#000" opacity="0.06" filter="url(#blurC)"/>
<rect x="218.8" y="250.1" width="11.1" height="1" fill="#000" opacity="0.04" filter="url(#blurC)"/>
<rect x="218.9" y="252.8" width="11.0" height="1" fill="#000" opacity="0.03" filter="url(#blurC)"/>
<rect x="219.0" y="256.3" width="10.9" height="1" fill="#000" opacity="0.04" filter="url(#blurC)"/>
<rect x="219.2" y="260.9" width="10.8" height="1" fill="#000" opacity="0.05" filter="url(#blurC)"/>
<rect x="219.3" y="264.8" width="10.7" height="1" fill="#000" opacity="0.04" filter="url(#blurC)"/>
<rect x="219.4" y="268.4" width="10.6" height="1" fill="#000" opacity="0.03" filter="url(#blurC)"/>
<rect x="219.5" y="271.1" width="10.5" height="1" fill="#000" opacity="0.03" filter="url(#blurC)"/>
<rect x="219.6" y="274.6" width="10.4" height="1" fill="#000" opacity="0.02" filter="url(#blurC)"/>
<rect x="219.8" y="279.5" width="10.3" height="1" fill="#000" opacity="0.01" filter="url(#blurC)"/>
<rect x="219.9" y="282.1" width="10.2" height="1" fill="#000" opacity="0.01" filter="url(#blurC)"/>
<rect x="220.0" y="287.1" width="10.1" height="1" fill="#000" opacity="0.02" filter="url(#blurC)"/>
<rect x="220.1" y="289.4" width="10.0" height="1" fill="#000" opacity="0.04" filter="url(#blurC)"/>
<rect x="220.2" y="293.3" width="9.9" height="1" fill="#000" opacity="0.04" filter="url(#blurC)"/>
<rect x="220.4" y="297.9" width="9.8" height="1" fill="#000" opacity="0.04" filter="url(#blurC)"/>
<rect x="220.5" y="302.0" width="9.6" height="1" fill="#000" opacity="0.03" filter="url(#blurC)"/>
<rect x="220.6" y="305.5" width="9.5" height="1" fill="#000" opacity="0.01" filter="url(#blurC)"/>
<rect x="219.4" y="268.0" width="10.6" height="1.4" fill="#000" opacity="0.05" filter="url(#blurC)"/>
<rect x="219.6" y="273.3" width="10.5" height="1.4" fill="#000" opacity="0.06" filter="url(#blurC)"/>
<rect x="219.8" y="279.6" width="10.3" height="1.4" fill="#000" opacity="0.07" filter="url(#blurC)"/>
<rect x="220.0" y="285.9" width="10.1" height="1.4" fill="#000" opacity="0.06" filter="url(#blurC)"/>
<text x="300" y="189.3" font-size="12.5" fill="#111" text-anchor="start" font-weight="bold" >C</text>
<text x="318.6" y="216.3" font-size="10.8" fill="#222" text-anchor="start" font-weight="normal"  stroke="#222" stroke-width="0.1">BP1</text>
<line x1="362.5" y1="212.7" x2="368.5" y2="212.7" stroke="#222" stroke-width="1"/>
<text x="385.7" y="215.2" font-size="10.5" fill="#222" text-anchor="middle" font-weight="normal"  stroke="#222" stroke-width="0.1">+</text>
<text x="407.9" y="215.2" font-size="10.5" fill="#222" text-anchor="middle" font-weight="normal"  stroke="#222" stroke-width="0.1">+</text>
<text x="427.3" y="215.2" font-size="10.5" fill="#222" text-anchor="middle" font-weight="normal"  stroke="#222" stroke-width="0.1">+</text>
<text x="449.1" y="215.2" font-size="10.5" fill="#222" text-anchor="middle" font-weight="normal"  stroke="#222" stroke-width="0.1">+</text>
<text x="280.4" y="236.3" font-size="11.4" fill="#222" text-anchor="start" font-weight="normal"  stroke="#222" stroke-width="0.1">UVA (kJ/m<tspan dy="-4.56" font-size="7.52">2</tspan><tspan dy="4.56">)</tspan></text>
<text x="366" y="236" font-size="9.5" fill="#222" text-anchor="middle" font-weight="normal"  stroke="#222" stroke-width="0.1">200</text>
<text x="387.8" y="236" font-size="9.5" fill="#222" text-anchor="middle" font-weight="normal"  stroke="#222" stroke-width="0.1">0</text>
<text x="408.9" y="236" font-size="9.5" fill="#222" text-anchor="middle" font-weight="normal"  stroke="#222" stroke-width="0.1">50</text>
<text x="427.2" y="236" font-size="9.5" fill="#222" text-anchor="middle" font-weight="normal"  stroke="#222" stroke-width="0.1">100</text>
<text x="450.2" y="236" font-size="9.5" fill="#222" text-anchor="middle" font-weight="normal"  stroke="#222" stroke-width="0.1">200</text>
<rect x="348.5" y="240" width="114" height="70.5" fill="#eeeeee" filter="url(#blurE)"/>
<rect x="360.0" y="260.5" width="11" height="1.6" fill="#000" opacity="0.34" filter="url(#blurCC)"/>
<rect x="377.7" y="260.2" width="16" height="2.2" fill="#000" opacity="0.46" filter="url(#blurCC)"/>
<rect x="377.7" y="267.3" width="16" height="2" fill="#000" opacity="0.07" filter="url(#blurCC)"/>
<rect x="377.7" y="273.8" width="16" height="2" fill="#000" opacity="0.23" filter="url(#blurCC)"/>
<rect x="377.7" y="279.6" width="16" height="2" fill="#000" opacity="0.18" filter="url(#blurCC)"/>
<rect x="377.7" y="285.5" width="16" height="2" fill="#000" opacity="0.14" filter="url(#blurCC)"/>
<rect x="398.4" y="252.5" width="16.5" height="2" fill="#000" opacity="0.11" filter="url(#blurCC)"/>
<rect x="398.4" y="255.5" width="16.5" height="2" fill="#000" opacity="0.11" filter="url(#blurCC)"/>
<rect x="398.4" y="260.1" width="16.5" height="2.4" fill="#000" opacity="0.57" filter="url(#blurCC)"/>
<rect x="398.4" y="267.3" width="16.5" height="2" fill="#000" opacity="0.11" filter="url(#blurCC)"/>
<rect x="398.4" y="273.7" width="16.5" height="2.2" fill="#000" opacity="0.34" filter="url(#blurCC)"/>
<rect x="398.4" y="279.5" width="16.5" height="2.2" fill="#000" opacity="0.28" filter="url(#blurCC)"/>
<rect x="398.4" y="285.5" width="16.5" height="2" fill="#000" opacity="0.21" filter="url(#blurCC)"/>
<rect x="418.6" y="253.6" width="16.5" height="2" fill="#000" opacity="0.16" filter="url(#blurCC)"/>
<rect x="418.6" y="256.5" width="16.5" height="2" fill="#000" opacity="0.16" filter="url(#blurCC)"/>
<rect x="418.6" y="260.1" width="16.5" height="2.4" fill="#000" opacity="0.64" filter="url(#blurCC)"/>
<rect x="418.6" y="267.3" width="16.5" height="2" fill="#000" opacity="0.14" filter="url(#blurCC)"/>
<rect x="418.6" y="273.6" width="16.5" height="2.4" fill="#000" opacity="0.48" filter="url(#blurCC)"/>
<rect x="418.6" y="279.6" width="16.5" height="2.2" fill="#000" opacity="0.39" filter="url(#blurCC)"/>
<rect x="418.6" y="285.4" width="16.5" height="2" fill="#000" opacity="0.30" filter="url(#blurCC)"/>
<rect x="439.9" y="251.2" width="17" height="2.4" fill="#000" opacity="0.30" filter="url(#blurCC)"/>
<rect x="439.9" y="255.6" width="17" height="2.4" fill="#000" opacity="0.38" filter="url(#blurCC)"/>
<rect x="439.9" y="259.9" width="17" height="2.8" fill="#000" opacity="0.89" filter="url(#blurCC)"/>
<rect x="439.9" y="264.8" width="17" height="2.4" fill="#000" opacity="0.27" filter="url(#blurCC)"/>
<rect x="439.9" y="267.3" width="17" height="2.6" fill="#000" opacity="0.43" filter="url(#blurCC)"/>
<rect x="439.9" y="273.4" width="17" height="2.8" fill="#000" opacity="0.92" filter="url(#blurCC)"/>
<rect x="439.9" y="279.4" width="17" height="2.8" fill="#000" opacity="0.89" filter="url(#blurCC)"/>
<rect x="439.9" y="285.0" width="17" height="2.6" fill="#000" opacity="0.76" filter="url(#blurCC)"/>
<rect x="439.9" y="290.5" width="17" height="3" fill="#000" opacity="0.07" filter="url(#blurCC)"/>
<rect x="439.9" y="296.0" width="17" height="3" fill="#000" opacity="0.07" filter="url(#blurCC)"/>
<rect x="439.9" y="242" width="17" height="18" fill="url(#gC5)" filter="url(#blurCC)"/>
<rect x="418.5" y="249" width="16.5" height="10" fill="url(#gC4)" filter="url(#blurCC)"/>
<path d="M349.2,264.2 C351,263.3 354.5,263.2 358.6,265.6 C356.5,267.3 353,269.4 349.6,270.4 C349,268.5 349,266 349.2,264.2 Z" fill="#111" filter="url(#blurS)"/>
<text x="2.5" y="361.3" font-size="13" fill="#111" text-anchor="start" font-weight="bold" >D</text>
<line x1="54.4" y1="360.8" x2="54.4" y2="498.8" stroke="#111" stroke-width="1.4"/>
<line x1="53.7" y1="498" x2="143.8" y2="498" stroke="#111" stroke-width="1.5"/>
<line x1="54.4" y1="498.2" x2="58.6" y2="498.2" stroke="#111" stroke-width="1.3"/>
<line x1="54.4" y1="464.0" x2="58.6" y2="464.0" stroke="#111" stroke-width="1.3"/>
<text x="51.5" y="467.3" font-size="9.5" fill="#222" text-anchor="end" font-weight="normal"  stroke="#222" stroke-width="0.1">20</text>
<line x1="54.4" y1="429.8" x2="58.6" y2="429.8" stroke="#111" stroke-width="1.3"/>
<text x="51.5" y="433.09999999999997" font-size="9.5" fill="#222" text-anchor="end" font-weight="normal"  stroke="#222" stroke-width="0.1">40</text>
<line x1="54.4" y1="395.6" x2="58.6" y2="395.6" stroke="#111" stroke-width="1.3"/>
<text x="51.5" y="398.90000000000003" font-size="9.5" fill="#222" text-anchor="end" font-weight="normal"  stroke="#222" stroke-width="0.1">60</text>
<line x1="54.4" y1="361.4" x2="58.6" y2="361.4" stroke="#111" stroke-width="1.3"/>
<text x="51.5" y="364.7" font-size="9.5" fill="#222" text-anchor="end" font-weight="normal"  stroke="#222" stroke-width="0.1">80</text>
<line x1="54.4" y1="498" x2="54.4" y2="494" stroke="#111" stroke-width="1.3"/>
<text x="54.4" y="507.6" font-size="9.2" fill="#222" text-anchor="middle" font-weight="normal"  stroke="#222" stroke-width="0.1">0</text>
<line x1="76.6" y1="498" x2="76.6" y2="494" stroke="#111" stroke-width="1.3"/>
<text x="76.6" y="507.6" font-size="9.2" fill="#222" text-anchor="middle" font-weight="normal"  stroke="#222" stroke-width="0.1">1</text>
<line x1="98.8" y1="498" x2="98.8" y2="494" stroke="#111" stroke-width="1.3"/>
<text x="98.8" y="507.6" font-size="9.2" fill="#222" text-anchor="middle" font-weight="normal"  stroke="#222" stroke-width="0.1">2</text>
<line x1="121.0" y1="498" x2="121.0" y2="494" stroke="#111" stroke-width="1.3"/>
<text x="121.0" y="507.6" font-size="9.2" fill="#222" text-anchor="middle" font-weight="normal"  stroke="#222" stroke-width="0.1">3</text>
<line x1="143.2" y1="498" x2="143.2" y2="494" stroke="#111" stroke-width="1.3"/>
<text x="143.2" y="507.6" font-size="9.2" fill="#222" text-anchor="middle" font-weight="normal"  stroke="#222" stroke-width="0.1">4</text>
<text x="100.4" y="523.9" font-size="9.4" fill="#222" text-anchor="middle" font-weight="normal"  stroke="#222" stroke-width="0.1">Time after UVB irradiation (h)</text>
<text transform="translate(34.1,424.9) rotate(-90)" font-size="9.4" fill="#1c1c1c" stroke="#1c1c1c" stroke-width="0.1" text-anchor="middle">6:4 Py:Py Removed (%)</text>
<polyline points="54.4,498 98.7,475.1 143.1,446.4" fill="none" stroke="#bdbdbd" stroke-width="1.8"/>
<polyline points="54.4,498 98.7,453.5 143.1,416.4" fill="none" stroke="#7a7a7a" stroke-width="1.8"/>
<polyline points="54.4,498 98.7,445 143.1,392" fill="none" stroke="#333" stroke-width="2"/>
<polyline points="54.4,498 98.7,438.5 143.1,389.4" fill="none" stroke="#111" stroke-width="2.2"/>
<line x1="98.7" y1="421.9" x2="98.7" y2="489" stroke="#111" stroke-width="1.4"/><line x1="94.2" y1="421.9" x2="103.2" y2="421.9" stroke="#111" stroke-width="1.4"/><line x1="94.2" y1="428.4" x2="103.2" y2="428.4" stroke="#111" stroke-width="1.4"/><line x1="94.2" y1="442" x2="103.2" y2="442" stroke="#111" stroke-width="1.4"/><line x1="94.2" y1="444.5" x2="103.2" y2="444.5" stroke="#111" stroke-width="1.4"/><line x1="94.2" y1="447.5" x2="103.2" y2="447.5" stroke="#111" stroke-width="1.4"/><line x1="94.2" y1="455.1" x2="103.2" y2="455.1" stroke="#111" stroke-width="1.4"/><line x1="94.2" y1="459.2" x2="103.2" y2="459.2" stroke="#111" stroke-width="1.4"/><line x1="94.2" y1="460.2" x2="103.2" y2="460.2" stroke="#111" stroke-width="1.4"/><line x1="94.2" y1="489" x2="103.2" y2="489" stroke="#111" stroke-width="1.4"/>
<line x1="143.1" y1="370.6" x2="143.1" y2="461.7" stroke="#111" stroke-width="1.4"/><line x1="138.6" y1="370.6" x2="147.6" y2="370.6" stroke="#111" stroke-width="1.4"/><line x1="138.6" y1="379.3" x2="147.6" y2="379.3" stroke="#111" stroke-width="1.4"/><line x1="138.6" y1="393.5" x2="147.6" y2="393.5" stroke="#111" stroke-width="1.4"/><line x1="138.6" y1="397.3" x2="147.6" y2="397.3" stroke="#111" stroke-width="1.4"/><line x1="138.6" y1="402.2" x2="147.6" y2="402.2" stroke="#111" stroke-width="1.4"/><line x1="138.6" y1="407.4" x2="147.6" y2="407.4" stroke="#111" stroke-width="1.4"/><line x1="138.6" y1="430.3" x2="147.6" y2="430.3" stroke="#111" stroke-width="1.4"/><line x1="138.6" y1="434.4" x2="147.6" y2="434.4" stroke="#111" stroke-width="1.4"/><line x1="138.6" y1="461.7" x2="147.6" y2="461.7" stroke="#111" stroke-width="1.4"/>
<rect x="94.7" y="441" width="8" height="8" fill="#222"/>
<rect x="139.1" y="388.3" width="8" height="8" fill="#222"/>
<path d="M98.7,449.1 L102.7,456.5 L94.7,456.5 Z" fill="#fff" stroke="#888" stroke-width="1.2"/>
<path d="M143.1,412.0 L147.1,419.4 L139.1,419.4 Z" fill="#fff" stroke="#888" stroke-width="1.2"/>
<line x1="94.2" y1="455.1" x2="103.2" y2="455.1" stroke="#111" stroke-width="1.4"/>
<path d="M98.7,471.3 L102.5,475.1 L98.7,478.90000000000003 L94.9,475.1 Z" fill="#fff" stroke="#b0b0b0" stroke-width="1.2"/>
<path d="M143.1,442.59999999999997 L146.9,446.4 L143.1,450.2 L139.29999999999998,446.4 Z" fill="#fff" stroke="#b0b0b0" stroke-width="1.2"/>
<circle cx="98.7" cy="438.5" r="3.7" fill="#fff" stroke="#111" stroke-width="1.9"/>
<circle cx="143.1" cy="389.4" r="3.7" fill="#fff" stroke="#111" stroke-width="1.9"/>
<circle cx="50" cy="497.8" r="3.4" fill="#aaa" stroke="#666" stroke-width="1"/>
<circle cx="54.7" cy="497.8" r="3.7" fill="#fff" stroke="#111" stroke-width="1.9"/>
<text x="88.5" y="371.5" font-size="9.6" fill="#222" text-anchor="start" font-weight="normal"  stroke="#222" stroke-width="0.1">0, 50 kJ/m<tspan dy="-3.84" font-size="6.34">2</tspan><tspan dy="3.84"></tspan></text>
<text x="150" y="436.5" font-size="9.6" fill="#222" text-anchor="start" font-weight="normal"  stroke="#222" stroke-width="0.1">100 kJ/m<tspan dy="-3.84" font-size="6.34">2</tspan><tspan dy="3.84"></tspan></text>
<text x="148.3" y="472.5" font-size="9.6" fill="#222" text-anchor="start" font-weight="normal"  stroke="#222" stroke-width="0.1">200 kJ/m<tspan dy="-3.84" font-size="6.34">2</tspan><tspan dy="3.84"></tspan></text>
<text x="257.5" y="361.3" font-size="13" fill="#111" text-anchor="start" font-weight="bold" >E</text>
<line x1="308" y1="361.5" x2="308" y2="499" stroke="#111" stroke-width="1.4"/>
<line x1="307.3" y1="498.3" x2="399.4" y2="498.3" stroke="#111" stroke-width="1.5"/>
<line x1="308" y1="498.5" x2="312" y2="498.5" stroke="#111" stroke-width="1.3"/>
<text x="304.5" y="501.8" font-size="9.5" fill="#222" text-anchor="end" font-weight="normal"  stroke="#222" stroke-width="0.1">0</text>
<line x1="308" y1="464.4" x2="312" y2="464.4" stroke="#111" stroke-width="1.3"/>
<text x="304.5" y="467.7" font-size="9.5" fill="#222" text-anchor="end" font-weight="normal"  stroke="#222" stroke-width="0.1">20</text>
<line x1="308" y1="430.3" x2="312" y2="430.3" stroke="#111" stroke-width="1.3"/>
<text x="304.5" y="433.6" font-size="9.5" fill="#222" text-anchor="end" font-weight="normal"  stroke="#222" stroke-width="0.1">40</text>
<line x1="308" y1="396.2" x2="312" y2="396.2" stroke="#111" stroke-width="1.3"/>
<text x="304.5" y="399.5" font-size="9.5" fill="#222" text-anchor="end" font-weight="normal"  stroke="#222" stroke-width="0.1">60</text>
<line x1="308" y1="362.1" x2="312" y2="362.1" stroke="#111" stroke-width="1.3"/>
<text x="304.5" y="365.40000000000003" font-size="9.5" fill="#222" text-anchor="end" font-weight="normal"  stroke="#222" stroke-width="0.1">80</text>
<line x1="308.0" y1="498.3" x2="308.0" y2="494.3" stroke="#111" stroke-width="1.3"/>
<text x="308.0" y="508.7" font-size="9.2" fill="#222" text-anchor="middle" font-weight="normal"  stroke="#222" stroke-width="0.1">0</text>
<line x1="326.1" y1="498.3" x2="326.1" y2="494.3" stroke="#111" stroke-width="1.3"/>
<text x="326.15" y="508.7" font-size="9.2" fill="#222" text-anchor="middle" font-weight="normal"  stroke="#222" stroke-width="0.1">5</text>
<line x1="344.3" y1="498.3" x2="344.3" y2="494.3" stroke="#111" stroke-width="1.3"/>
<text x="344.3" y="508.7" font-size="9.2" fill="#222" text-anchor="middle" font-weight="normal"  stroke="#222" stroke-width="0.1">10</text>
<line x1="362.4" y1="498.3" x2="362.4" y2="494.3" stroke="#111" stroke-width="1.3"/>
<text x="362.45" y="508.7" font-size="9.2" fill="#222" text-anchor="middle" font-weight="normal"  stroke="#222" stroke-width="0.1">15</text>
<line x1="380.6" y1="498.3" x2="380.6" y2="494.3" stroke="#111" stroke-width="1.3"/>
<text x="380.6" y="508.7" font-size="9.2" fill="#222" text-anchor="middle" font-weight="normal"  stroke="#222" stroke-width="0.1">20</text>
<line x1="398.8" y1="498.3" x2="398.8" y2="494.3" stroke="#111" stroke-width="1.3"/>
<text x="398.75" y="508.7" font-size="9.2" fill="#222" text-anchor="middle" font-weight="normal"  stroke="#222" stroke-width="0.1">25</text>
<text x="354.5" y="525.2" font-size="9.4" fill="#222" text-anchor="middle" font-weight="normal"  stroke="#222" stroke-width="0.1">Time after irradiation (h)</text>
<text transform="translate(286.3,433) rotate(-90)" font-size="9.4" fill="#1c1c1c" stroke="#1c1c1c" stroke-width="0.1" text-anchor="middle">CPDs Removed (%)</text>
<polyline points="308,498.5 336.9,472.5 395.4,417.3" fill="none" stroke="#8a8a8a" stroke-width="1.8"/>
<polyline points="308,498.5 336.8,447.3 394.4,382.7" fill="none" stroke="#444" stroke-width="1.8"/>
<polyline points="308,498.5 336.9,458.8 395.8,365.4" fill="none" stroke="#111" stroke-width="1.9"/>
<line x1="336.9" y1="452.5" x2="336.9" y2="466" stroke="#222" stroke-width="1.3"/><line x1="333.4" y1="452.5" x2="340.4" y2="452.5" stroke="#222" stroke-width="1.3"/><line x1="333.4" y1="466" x2="340.4" y2="466" stroke="#222" stroke-width="1.3"/>
<line x1="336.9" y1="470" x2="336.9" y2="479" stroke="#555" stroke-width="1.3"/><line x1="333.4" y1="470" x2="340.4" y2="470" stroke="#555" stroke-width="1.3"/><line x1="333.4" y1="479" x2="340.4" y2="479" stroke="#555" stroke-width="1.3"/>
<line x1="395.4" y1="396.8" x2="395.4" y2="437.5" stroke="#222" stroke-width="1.5"/><line x1="391.4" y1="396.8" x2="399.4" y2="396.8" stroke="#222" stroke-width="1.5"/><line x1="391.4" y1="437.5" x2="399.4" y2="437.5" stroke="#222" stroke-width="1.5"/>
<line x1="394.4" y1="378.5" x2="394.4" y2="389.4" stroke="#333" stroke-width="1.3"/><line x1="390.9" y1="378.5" x2="397.9" y2="378.5" stroke="#333" stroke-width="1.3"/><line x1="390.9" y1="389.4" x2="397.9" y2="389.4" stroke="#333" stroke-width="1.3"/>
<rect x="332.3" y="443" width="9" height="8.6" fill="#fff" stroke="#444" stroke-width="1.3"/>
<rect x="390" y="378.5" width="8.8" height="8.6" fill="#fff" stroke="#555" stroke-width="1.3"/>
<circle cx="336.9" cy="458.8" r="3.9" fill="#fff" stroke="#111" stroke-width="1.3"/>
<circle cx="395.8" cy="365.4" r="3.8" fill="#fff" stroke="#111" stroke-width="1.5"/>
<path d="M336.9,467.5 L340.5,477.0 L333.29999999999995,477.0 Z" fill="#fff" stroke="#8a8a8a" stroke-width="1.2"/>
<path d="M395.4,412.3 L399.0,421.8 L391.79999999999995,421.8 Z" fill="#fff" stroke="#8a8a8a" stroke-width="1.2"/>
<circle cx="308" cy="498.5" r="3.6" fill="#fff" stroke="#777" stroke-width="1.1"/>
<path d="M309,493 L312,501 L306,501 Z" fill="#fff" stroke="#999" stroke-width="1"/>
<text x="402.7" y="365.4" font-size="9.6" fill="#222" text-anchor="start" font-weight="normal"  stroke="#222" stroke-width="0.1">7 J/m<tspan dy="-3.84" font-size="6.34">2</tspan><tspan dy="3.84"> UVC</tspan></text>
<text x="402.7" y="384.4" font-size="9.6" fill="#222" text-anchor="start" font-weight="normal"  stroke="#222" stroke-width="0.1">30 J/m<tspan dy="-3.84" font-size="6.34">2</tspan><tspan dy="3.84"> UVB</tspan></text>
<text x="402.7" y="430.4" font-size="9.6" fill="#222" text-anchor="start" font-weight="normal"  stroke="#222" stroke-width="0.1">300 kJ/m<tspan dy="-3.84" font-size="6.34">2</tspan><tspan dy="3.84"></tspan></text>
<text x="414.2" y="440.8" font-size="9.6" fill="#222" text-anchor="start" font-weight="normal"  stroke="#222" stroke-width="0.1">UVA</text>
<text x="1.5" y="558.3" font-size="13" fill="#111" text-anchor="start" font-weight="bold" >F</text>
<line x1="36.1" y1="568.6" x2="36.1" y2="704.5" stroke="#9a9a9a" stroke-width="1"/>
<line x1="36.1" y1="704.5" x2="148.4" y2="704.5" stroke="#9a9a9a" stroke-width="1.2"/>
<line x1="34" y1="704.5" x2="36.1" y2="704.5" stroke="#9a9a9a" stroke-width="1"/>
<text x="27.9" y="707.9" font-size="9.5" fill="#444" text-anchor="end" font-weight="normal"  stroke="#444" stroke-width="0.1">0</text>
<line x1="34" y1="659.3" x2="36.1" y2="659.3" stroke="#9a9a9a" stroke-width="1"/>
<text x="27.9" y="662.6999999999999" font-size="9.5" fill="#444" text-anchor="end" font-weight="normal"  stroke="#444" stroke-width="0.1">25</text>
<line x1="34" y1="614.1" x2="36.1" y2="614.1" stroke="#9a9a9a" stroke-width="1"/>
<text x="27.9" y="617.5" font-size="9.5" fill="#444" text-anchor="end" font-weight="normal"  stroke="#444" stroke-width="0.1">50</text>
<line x1="34" y1="568.9" x2="36.1" y2="568.9" stroke="#9a9a9a" stroke-width="1"/>
<text x="27.9" y="572.3" font-size="9.5" fill="#444" text-anchor="end" font-weight="normal"  stroke="#444" stroke-width="0.1">75</text>
<line x1="36.1" y1="704.5" x2="36.1" y2="706.5" stroke="#9a9a9a" stroke-width="1"/>
<text x="36.1" y="718.8" font-size="9.5" fill="#333" text-anchor="middle" font-weight="normal"  stroke="#333" stroke-width="0.1">0</text>
<line x1="73.3" y1="704.5" x2="73.3" y2="706.5" stroke="#9a9a9a" stroke-width="1"/>
<text x="73.30000000000001" y="718.8" font-size="9.5" fill="#333" text-anchor="middle" font-weight="normal"  stroke="#333" stroke-width="0.1">10</text>
<line x1="110.5" y1="704.5" x2="110.5" y2="706.5" stroke="#9a9a9a" stroke-width="1"/>
<text x="110.5" y="718.8" font-size="9.5" fill="#333" text-anchor="middle" font-weight="normal"  stroke="#333" stroke-width="0.1">20</text>
<line x1="147.7" y1="704.5" x2="147.7" y2="706.5" stroke="#9a9a9a" stroke-width="1"/>
<text x="147.70000000000002" y="718.8" font-size="9.5" fill="#333" text-anchor="middle" font-weight="normal"  stroke="#333" stroke-width="0.1">30</text>
<text x="123.2" y="729.6" font-size="9.5" fill="#222" text-anchor="middle" font-weight="normal"  stroke="#222" stroke-width="0.1">Time (min)</text>
<text transform="translate(8.7,638.8) rotate(-90)" font-size="9.6" fill="#1c1c1c" stroke="#1c1c1c" stroke-width="0.1" text-anchor="middle">DNA 8-oxoG Removed (%)</text>
<path d="M36.1,704.4 C37.8,702.5 42.7,696.7 46.2,693.0 C49.7,689.3 52.4,686.6 56.9,682.0 C61.4,677.4 68.6,670.7 73.1,665.5 C77.6,660.3 80.7,656.1 83.8,651.0 C86.9,645.9 89.2,640.8 91.9,635.0 C94.6,629.2 97.3,622.0 100.0,616.5 C102.7,611.0 105.4,606.0 108.1,602.0 C110.8,598.0 113.1,595.0 116.2,592.8 C119.3,590.5 123.3,589.5 126.9,588.5 C130.5,587.5 133.8,586.9 137.7,587.0 C141.6,587.1 148.4,588.7 150.5,589.0" fill="none" stroke="#111" stroke-width="1.3"/>
<path d="M36.1,704.4 C38.7,705.5 46.5,709.3 51.5,710.8 C56.5,712.3 60.6,713.7 66.0,713.6 C71.4,713.5 76.3,712.7 83.8,710.0 C91.3,707.3 100.6,702.3 110.8,697.3 C121.0,692.3 139.5,682.7 145.2,679.8" fill="none" stroke="#111" stroke-width="1.3"/>
<line x1="73.6" y1="660.4" x2="73.6" y2="669" stroke="#333" stroke-width="1.1"/><line x1="70.6" y1="660.4" x2="76.6" y2="660.4" stroke="#333" stroke-width="1.1"/><line x1="70.6" y1="669" x2="76.6" y2="669" stroke="#333" stroke-width="1.1"/>
<line x1="150.4" y1="589.1" x2="150.4" y2="600.2" stroke="#333" stroke-width="1.1"/><line x1="147.4" y1="589.1" x2="153.4" y2="589.1" stroke="#333" stroke-width="1.1"/><line x1="147.4" y1="600.2" x2="153.4" y2="600.2" stroke="#333" stroke-width="1.1"/>
<line x1="73.1" y1="700.5" x2="73.1" y2="723" stroke="#333" stroke-width="1.1"/><line x1="70.1" y1="700.5" x2="76.1" y2="700.5" stroke="#333" stroke-width="1.1"/><line x1="70.1" y1="723" x2="76.1" y2="723" stroke="#333" stroke-width="1.1"/>
<line x1="110.8" y1="657.4" x2="110.8" y2="670.4" stroke="#555" stroke-width="1"/><line x1="108.8" y1="657.4" x2="112.8" y2="657.4" stroke="#555" stroke-width="1"/><line x1="108.8" y1="670.4" x2="112.8" y2="670.4" stroke="#555" stroke-width="1"/>
<circle cx="36.1" cy="704.4" r="3.5" fill="#111"/>
<circle cx="73.6" cy="664.5" r="3.5" fill="#111"/>
<circle cx="110.8" cy="598.2" r="3.5" fill="#111"/>
<circle cx="150.4" cy="594.8" r="3.5" fill="#111"/>
<circle cx="73.1" cy="713.5" r="3" fill="#fff" stroke="#222" stroke-width="1.1"/>
<circle cx="110.8" cy="664.5" r="3" fill="#fff" stroke="#222" stroke-width="1.1"/>
<circle cx="148.6" cy="699.5" r="3" fill="#fff" stroke="#222" stroke-width="1.1"/>
<text x="135.3" y="583" font-size="9.5" fill="#222" text-anchor="start" font-weight="normal"  stroke="#222" stroke-width="0.1">No UVA</text>
<text x="135.7" y="675" font-size="9.5" fill="#222" text-anchor="start" font-weight="normal"  stroke="#222" stroke-width="0.1">200 kJ/m<tspan dy="-3.80" font-size="6.27">2</tspan><tspan dy="3.80"></tspan></text>
<text x="149" y="686.5" font-size="9.5" fill="#222" text-anchor="start" font-weight="normal"  stroke="#222" stroke-width="0.1">UVA</text>
<text x="206.5" y="568" font-size="13" fill="#111" text-anchor="start" font-weight="bold" >G</text>
<text x="198.5" y="605.8" font-size="9.4" fill="#222">H<tspan dy="2" font-size="6.5">2</tspan><tspan dy="-2">O</tspan><tspan dy="2" font-size="6.5">2</tspan><tspan dy="-2"> (μmol/L)</tspan></text>
<text x="266" y="605.8" font-size="9.4" fill="#222" text-anchor="middle" font-weight="normal"  stroke="#222" stroke-width="0.1">0</text>
<text x="292" y="605.8" font-size="9.4" fill="#222" text-anchor="middle" font-weight="normal"  stroke="#222" stroke-width="0.1">500</text>
<path d="M257.7,612.3 L276.2,612.3 L273,692.3 L255.4,692.3 Z" fill="url(#gG1)" filter="url(#blurG)"/>
<path d="M282.3,612.3 L303,612.3 L299.2,692.3 L281.5,692.3 Z" fill="url(#gG2)" filter="url(#blurG)"/>
<rect x="258.6" y="613.6" width="16.5" height="1" fill="#000" opacity="0.09" filter="url(#blurC)"/>
<rect x="258.6" y="616.5" width="16.4" height="1" fill="#000" opacity="0.11" filter="url(#blurC)"/>
<rect x="258.5" y="619.0" width="16.4" height="1" fill="#000" opacity="0.10" filter="url(#blurC)"/>
<rect x="258.4" y="620.7" width="16.4" height="1" fill="#000" opacity="0.07" filter="url(#blurC)"/>
<rect x="258.3" y="624.4" width="16.4" height="1" fill="#000" opacity="0.08" filter="url(#blurC)"/>
<rect x="258.3" y="627.0" width="16.3" height="1" fill="#000" opacity="0.04" filter="url(#blurC)"/>
<rect x="258.2" y="629.1" width="16.3" height="1" fill="#000" opacity="0.05" filter="url(#blurC)"/>
<rect x="258.1" y="631.8" width="16.3" height="1" fill="#000" opacity="0.08" filter="url(#blurC)"/>
<rect x="258.1" y="633.7" width="16.3" height="1" fill="#000" opacity="0.05" filter="url(#blurC)"/>
<rect x="258.0" y="636.6" width="16.2" height="1" fill="#000" opacity="0.10" filter="url(#blurC)"/>
<rect x="257.9" y="639.8" width="16.2" height="1" fill="#000" opacity="0.04" filter="url(#blurC)"/>
<rect x="257.8" y="642.5" width="16.2" height="1" fill="#000" opacity="0.04" filter="url(#blurC)"/>
<rect x="257.8" y="644.8" width="16.1" height="1" fill="#000" opacity="0.04" filter="url(#blurC)"/>
<rect x="257.7" y="646.7" width="16.1" height="1" fill="#000" opacity="0.10" filter="url(#blurC)"/>
<rect x="257.6" y="649.6" width="16.1" height="1" fill="#000" opacity="0.05" filter="url(#blurC)"/>
<rect x="257.5" y="653.1" width="16.0" height="1" fill="#000" opacity="0.10" filter="url(#blurC)"/>
<rect x="257.5" y="654.8" width="16.0" height="1" fill="#000" opacity="0.11" filter="url(#blurC)"/>
<rect x="257.4" y="657.7" width="16.0" height="1" fill="#000" opacity="0.08" filter="url(#blurC)"/>
<rect x="257.3" y="659.9" width="16.0" height="1" fill="#000" opacity="0.11" filter="url(#blurC)"/>
<rect x="257.2" y="663.1" width="15.9" height="1" fill="#000" opacity="0.11" filter="url(#blurC)"/>
<rect x="257.1" y="666.0" width="15.9" height="1" fill="#000" opacity="0.05" filter="url(#blurC)"/>
<rect x="257.1" y="667.9" width="15.9" height="1" fill="#000" opacity="0.04" filter="url(#blurC)"/>
<rect x="257.0" y="670.3" width="15.8" height="1" fill="#000" opacity="0.04" filter="url(#blurC)"/>
<rect x="256.9" y="673.1" width="15.8" height="1" fill="#000" opacity="0.08" filter="url(#blurC)"/>
<rect x="256.9" y="675.3" width="15.8" height="1" fill="#000" opacity="0.08" filter="url(#blurC)"/>
<rect x="256.8" y="678.3" width="15.8" height="1" fill="#000" opacity="0.05" filter="url(#blurC)"/>
<rect x="256.7" y="681.5" width="15.7" height="1" fill="#000" opacity="0.07" filter="url(#blurC)"/>
<rect x="256.6" y="683.5" width="15.7" height="1" fill="#000" opacity="0.07" filter="url(#blurC)"/>
<rect x="256.6" y="686.5" width="15.7" height="1" fill="#000" opacity="0.03" filter="url(#blurC)"/>
<rect x="256.5" y="689.5" width="15.6" height="1" fill="#000" opacity="0.03" filter="url(#blurC)"/>
<rect x="282.8" y="613.8" width="19.6" height="1" fill="#000" opacity="0.12" filter="url(#blurC)"/>
<rect x="282.8" y="615.5" width="19.6" height="1" fill="#000" opacity="0.12" filter="url(#blurC)"/>
<rect x="282.7" y="618.5" width="19.4" height="1" fill="#000" opacity="0.10" filter="url(#blurC)"/>
<rect x="282.7" y="620.7" width="19.4" height="1" fill="#000" opacity="0.04" filter="url(#blurC)"/>
<rect x="282.7" y="623.5" width="19.3" height="1" fill="#000" opacity="0.14" filter="url(#blurC)"/>
<rect x="282.7" y="626.1" width="19.2" height="1" fill="#000" opacity="0.12" filter="url(#blurC)"/>
<rect x="282.6" y="629.6" width="19.0" height="1" fill="#000" opacity="0.13" filter="url(#blurC)"/>
<rect x="282.6" y="631.5" width="19.0" height="1" fill="#000" opacity="0.08" filter="url(#blurC)"/>
<rect x="282.6" y="634.3" width="18.9" height="1" fill="#000" opacity="0.12" filter="url(#blurC)"/>
<rect x="282.6" y="636.4" width="18.8" height="1" fill="#000" opacity="0.11" filter="url(#blurC)"/>
<rect x="282.5" y="639.9" width="18.6" height="1" fill="#000" opacity="0.13" filter="url(#blurC)"/>
<rect x="282.5" y="641.5" width="18.6" height="1" fill="#000" opacity="0.13" filter="url(#blurC)"/>
<rect x="282.5" y="644.2" width="18.5" height="1" fill="#000" opacity="0.07" filter="url(#blurC)"/>
<rect x="282.4" y="647.4" width="18.4" height="1" fill="#000" opacity="0.13" filter="url(#blurC)"/>
<rect x="282.4" y="649.7" width="18.3" height="1" fill="#000" opacity="0.13" filter="url(#blurC)"/>
<rect x="282.4" y="652.6" width="18.2" height="1" fill="#000" opacity="0.07" filter="url(#blurC)"/>
<rect x="282.4" y="654.9" width="18.1" height="1" fill="#000" opacity="0.06" filter="url(#blurC)"/>
<rect x="282.3" y="657.2" width="18.0" height="1" fill="#000" opacity="0.05" filter="url(#blurC)"/>
<rect x="282.3" y="660.5" width="17.9" height="1" fill="#000" opacity="0.14" filter="url(#blurC)"/>
<rect x="282.3" y="662.5" width="17.8" height="1" fill="#000" opacity="0.04" filter="url(#blurC)"/>
<rect x="282.3" y="666.1" width="17.7" height="1" fill="#000" opacity="0.09" filter="url(#blurC)"/>
<rect x="282.2" y="668.0" width="17.6" height="1" fill="#000" opacity="0.06" filter="url(#blurC)"/>
<rect x="282.2" y="670.8" width="17.5" height="1" fill="#000" opacity="0.12" filter="url(#blurC)"/>
<rect x="282.2" y="673.2" width="17.4" height="1" fill="#000" opacity="0.08" filter="url(#blurC)"/>
<rect x="282.2" y="675.4" width="17.3" height="1" fill="#000" opacity="0.13" filter="url(#blurC)"/>
<rect x="282.1" y="677.9" width="17.2" height="1" fill="#000" opacity="0.09" filter="url(#blurC)"/>
<rect x="282.1" y="681.5" width="17.1" height="1" fill="#000" opacity="0.05" filter="url(#blurC)"/>
<rect x="282.1" y="684.0" width="17.0" height="1" fill="#000" opacity="0.13" filter="url(#blurC)"/>
<rect x="282.1" y="686.5" width="16.9" height="1" fill="#000" opacity="0.12" filter="url(#blurC)"/>
<rect x="282.0" y="688.4" width="16.8" height="1" fill="#000" opacity="0.08" filter="url(#blurC)"/>
<rect x="257.9" y="639.8" width="16.2" height="1.4" fill="#000" opacity="0.08" filter="url(#blurCC)"/>
<rect x="257.7" y="647.3" width="16.1" height="1.4" fill="#000" opacity="0.08" filter="url(#blurCC)"/>
<rect x="257.5" y="652.8" width="16.0" height="1.4" fill="#000" opacity="0.1" filter="url(#blurCC)"/>
<rect x="257.2" y="662.3" width="15.9" height="1.4" fill="#000" opacity="0.12" filter="url(#blurCC)"/>
<rect x="282.8" y="613.8" width="19.6" height="1.5" fill="#000" opacity="0.16" filter="url(#blurCC)"/>
<rect x="282.7" y="616.8" width="19.5" height="1.5" fill="#000" opacity="0.2" filter="url(#blurCC)"/>
<rect x="282.7" y="619.3" width="19.4" height="1.4" fill="#000" opacity="0.16" filter="url(#blurCC)"/>
<rect x="282.7" y="621.5" width="19.3" height="1.5" fill="#000" opacity="0.26" filter="url(#blurCC)"/>
<rect x="282.7" y="624.3" width="19.2" height="1.4" fill="#000" opacity="0.16" filter="url(#blurCC)"/>
<rect x="282.6" y="627.2" width="19.1" height="1.6" fill="#000" opacity="0.28" filter="url(#blurCC)"/>
<rect x="282.6" y="630.3" width="19.0" height="1.4" fill="#000" opacity="0.16" filter="url(#blurCC)"/>
<rect x="282.6" y="633.7" width="18.9" height="1.8" fill="#000" opacity="0.36" filter="url(#blurCC)"/>
<rect x="282.5" y="636.8" width="18.8" height="1.4" fill="#000" opacity="0.12" filter="url(#blurCC)"/>
<rect x="282.5" y="639.4" width="18.7" height="1.8" fill="#000" opacity="0.3" filter="url(#blurCC)"/>
<rect x="282.5" y="643.2" width="18.5" height="1.5" fill="#000" opacity="0.16" filter="url(#blurCC)"/>
<rect x="282.4" y="647.5" width="18.4" height="1.6" fill="#000" opacity="0.24" filter="url(#blurCC)"/>
<rect x="282.4" y="650.3" width="18.2" height="1.4" fill="#000" opacity="0.1" filter="url(#blurCC)"/>
<rect x="282.4" y="653.9" width="18.1" height="2.6" fill="#000" opacity="0.85" filter="url(#blurCC)"/>
<rect x="282.3" y="658.5" width="17.9" height="2.2" fill="#000" opacity="0.88" filter="url(#blurCC)"/>
<rect x="282.3" y="662.0" width="17.8" height="1.5" fill="#000" opacity="0.2" filter="url(#blurCC)"/>
<rect x="282.2" y="667.2" width="17.6" height="1.5" fill="#000" opacity="0.1" filter="url(#blurCC)"/>
<rect x="282.2" y="673.2" width="17.4" height="1.5" fill="#000" opacity="0.1" filter="url(#blurCC)"/>
<rect x="282.1" y="679.2" width="17.2" height="1.5" fill="#000" opacity="0.08" filter="url(#blurCC)"/>
<text x="330.5" y="572.5" font-size="13" fill="#111" text-anchor="start" font-weight="bold" >H</text>
<line x1="390.8" y1="577" x2="390.8" y2="694.3" stroke="#888" stroke-width="1"/>
<line x1="390.8" y1="694.3" x2="482.6" y2="694.3" stroke="#888" stroke-width="1.2"/>
<line x1="388.8" y1="655.1" x2="390.8" y2="655.1" stroke="#888" stroke-width="1"/>
<text x="385.2" y="658.4999999999999" font-size="9.5" fill="#444" text-anchor="end" font-weight="normal"  stroke="#444" stroke-width="0.1">25</text>
<line x1="388.8" y1="616.4" x2="390.8" y2="616.4" stroke="#888" stroke-width="1"/>
<text x="385.2" y="619.8" font-size="9.5" fill="#444" text-anchor="end" font-weight="normal"  stroke="#444" stroke-width="0.1">50</text>
<line x1="388.8" y1="577.7" x2="390.8" y2="577.7" stroke="#888" stroke-width="1"/>
<text x="385.2" y="581.0999999999999" font-size="9.5" fill="#444" text-anchor="end" font-weight="normal"  stroke="#444" stroke-width="0.1">75</text>
<line x1="390.8" y1="694.3" x2="390.8" y2="697" stroke="#888" stroke-width="1"/>
<text x="390.8" y="706.8" font-size="9.5" fill="#333" text-anchor="middle" font-weight="normal"  stroke="#333" stroke-width="0.1">0</text>
<line x1="436.4" y1="694.3" x2="436.4" y2="697" stroke="#888" stroke-width="1"/>
<text x="436.40000000000003" y="706.8" font-size="9.5" fill="#333" text-anchor="middle" font-weight="normal"  stroke="#333" stroke-width="0.1">2</text>
<line x1="482.0" y1="694.3" x2="482.0" y2="697" stroke="#888" stroke-width="1"/>
<text x="482.0" y="706.8" font-size="9.5" fill="#333" text-anchor="middle" font-weight="normal"  stroke="#333" stroke-width="0.1">4</text>
<text x="433.4" y="725.7" font-size="9.4" fill="#222" text-anchor="middle" font-weight="normal"  stroke="#222" stroke-width="0.1">Time after UVB irradiation (h)</text>
<text transform="translate(364,639.3) rotate(-90)" font-size="9.4" fill="#1c1c1c" stroke="#1c1c1c" stroke-width="0.1" text-anchor="middle">6:4 Py:Py Removed (%)</text>
<line x1="390.8" y1="693.6" x2="482.2" y2="590" stroke="#111" stroke-width="1.3"/>
<line x1="390.8" y1="693.6" x2="482.2" y2="622.2" stroke="#111" stroke-width="1.3"/>
<line x1="482.2" y1="579.3" x2="482.2" y2="600" stroke="#777" stroke-width="1"/><line x1="480.95" y1="579.3" x2="483.45" y2="579.3" stroke="#777" stroke-width="1"/><line x1="480.95" y1="600" x2="483.45" y2="600" stroke="#777" stroke-width="1"/>
<line x1="482.2" y1="610.7" x2="482.2" y2="631" stroke="#777" stroke-width="1"/><line x1="480.95" y1="610.7" x2="483.45" y2="610.7" stroke="#777" stroke-width="1"/><line x1="480.95" y1="631" x2="483.45" y2="631" stroke="#777" stroke-width="1"/>
<circle cx="436.2" cy="654.9" r="3.4" fill="#111"/>
<circle cx="482.2" cy="622.2" r="3.4" fill="#111"/>
<circle cx="390.8" cy="693.6" r="3.2" fill="#fff" stroke="#222" stroke-width="1.1"/>
<circle cx="436.2" cy="643.4" r="3.2" fill="#fff" stroke="#222" stroke-width="1.1"/>
<circle cx="482.2" cy="590" r="3.2" fill="#fff" stroke="#222" stroke-width="1.1"/>
<text x="438.9" y="586.7" font-size="9.5" fill="#222" text-anchor="start" font-weight="normal"  stroke="#222" stroke-width="0.1">0 μmol/L</text>
<text x="472.2" y="643.3" font-size="9.5" fill="#222" text-anchor="start" font-weight="normal"  stroke="#222" stroke-width="0.1">500 μmol/L</text>
</svg></body></html>
